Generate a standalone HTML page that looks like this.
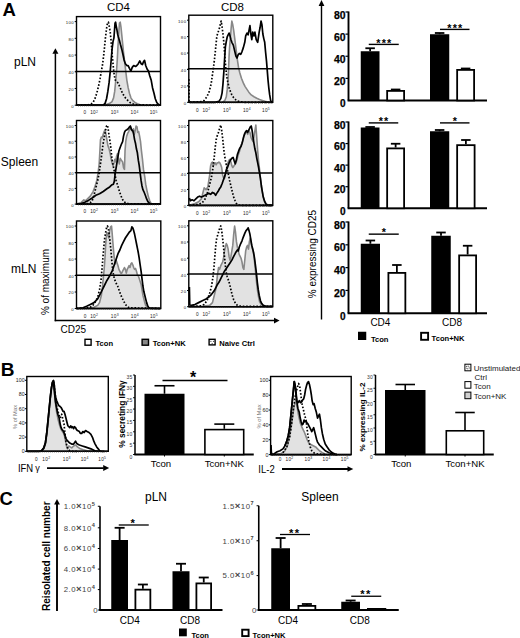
<!DOCTYPE html>
<html><head><meta charset="utf-8"><style>
html,body{margin:0;padding:0;background:#fff;}
svg{display:block;font-family:"Liberation Sans", sans-serif;}
</style></head><body>
<svg width="520" height="638" viewBox="0 0 520 638">
<text x="2.6" y="15.8" font-size="18.5" font-weight="bold" text-anchor="start" fill="#000">A</text>
<text x="118.5" y="10.5" font-size="11.5" font-weight="normal" text-anchor="middle" fill="#000">CD4</text>
<text x="232.5" y="10.5" font-size="11.5" font-weight="normal" text-anchor="middle" fill="#000">CD8</text>
<text x="14" y="66" font-size="12" font-weight="normal" text-anchor="start" fill="#000">pLN</text>
<text x="0.8" y="166" font-size="12" font-weight="normal" text-anchor="start" fill="#000">Spleen</text>
<text x="11" y="272.5" font-size="12" font-weight="normal" text-anchor="start" fill="#000">mLN</text>
<text x="48.6" y="282" font-size="10" font-weight="normal" text-anchor="middle" fill="#000" transform="rotate(-90 48.6 282)">% of maximum</text>
<text x="60.5" y="332.6" font-size="10" font-weight="normal" text-anchor="start" fill="#000">CD25</text>
<line x1="55.4" y1="53.2" x2="55.4" y2="321.2" stroke="#000" stroke-width="1.5"/>
<polygon points="55.4,48.2 52.4,53.7 58.4,53.7" fill="#000"/>
<line x1="54.7" y1="320.6" x2="274.5" y2="320.6" stroke="#000" stroke-width="1.5"/>
<polygon points="279.6,320.6 274.0,317.70000000000005 274.0,323.5" fill="#000"/>
<line x1="321.5" y1="5.5" x2="321.5" y2="319.5" stroke="#000" stroke-width="1.4"/>
<polygon points="321.5,0 318.6,6 324.4,6" fill="#000"/>
<text x="316.2" y="254" font-size="10" font-weight="normal" text-anchor="middle" fill="#000" transform="rotate(-90 316.2 254)">% expressing CD25</text>
<rect x="85.0" y="339.3" width="6.1" height="5.9" fill="#fff" stroke="#000" stroke-width="1.4"/>
<text x="95.5" y="346.2" font-size="7.6" font-weight="bold" text-anchor="start" fill="#000">Tcon</text>
<rect x="142.1" y="339.3" width="6.4" height="5.9" fill="#888" stroke="#000" stroke-width="1.4"/>
<text x="152.7" y="346.2" font-size="7.6" font-weight="bold" text-anchor="start" fill="#000">Tcon+NK</text>
<rect x="209.1" y="339.3" width="6.0" height="5.6" fill="#fff" stroke="#000" stroke-width="1.4"/>
<circle cx="210.9" cy="341.3" r="0.55" fill="#000"/><circle cx="213.4" cy="341.3" r="0.55" fill="#000"/><circle cx="212.1" cy="343.6" r="0.5" fill="#000"/>
<text x="219.3" y="346.2" font-size="7.6" font-weight="bold" text-anchor="start" fill="#000">Naive Ctrl</text>
<line x1="348.5" y1="11.5" x2="348.5" y2="100.5" stroke="#000" stroke-width="1.9"/>
<line x1="347.6" y1="100.5" x2="487" y2="100.5" stroke="#000" stroke-width="1.9"/>
<line x1="345.5" y1="12.0" x2="348.5" y2="12.0" stroke="#000" stroke-width="1.2"/>
<text x="345.5" y="18.5" font-size="10.2" font-weight="bold" text-anchor="end" fill="#000" textLength="11.6" lengthAdjust="spacingAndGlyphs" stroke="#000" stroke-width="0.25">80</text>
<line x1="345.5" y1="34.125" x2="348.5" y2="34.125" stroke="#000" stroke-width="1.2"/>
<text x="345.5" y="40.62" font-size="10.2" font-weight="bold" text-anchor="end" fill="#000" textLength="11.6" lengthAdjust="spacingAndGlyphs" stroke="#000" stroke-width="0.25">60</text>
<line x1="345.5" y1="56.25" x2="348.5" y2="56.25" stroke="#000" stroke-width="1.2"/>
<text x="345.5" y="62.75" font-size="10.2" font-weight="bold" text-anchor="end" fill="#000" textLength="11.6" lengthAdjust="spacingAndGlyphs" stroke="#000" stroke-width="0.25">40</text>
<line x1="345.5" y1="78.375" x2="348.5" y2="78.375" stroke="#000" stroke-width="1.2"/>
<text x="345.5" y="84.88" font-size="10.2" font-weight="bold" text-anchor="end" fill="#000" textLength="11.6" lengthAdjust="spacingAndGlyphs" stroke="#000" stroke-width="0.25">20</text>
<text x="345.5" y="107.0" font-size="10.2" font-weight="bold" text-anchor="end" fill="#000" textLength="5.6" lengthAdjust="spacingAndGlyphs" stroke="#000" stroke-width="0.25">0</text>
<line x1="370.125" y1="48.25" x2="370.125" y2="51.25" stroke="#000" stroke-width="1.8"/>
<line x1="365.375" y1="48.25" x2="374.875" y2="48.25" stroke="#000" stroke-width="1.8"/>
<rect x="360.75" y="51.25" width="18.75" height="49.25" fill="#000" stroke="none" stroke-width="0"/>
<line x1="395.625" y1="89.5" x2="395.625" y2="90" stroke="#000" stroke-width="1.8"/>
<line x1="390.875" y1="89.5" x2="400.375" y2="89.5" stroke="#000" stroke-width="1.8"/>
<rect x="387.15" y="90.9" width="16.95" height="9.6" fill="#fff" stroke="#000" stroke-width="1.8"/>
<line x1="439.625" y1="33" x2="439.625" y2="34.25" stroke="#000" stroke-width="1.8"/>
<line x1="434.875" y1="33" x2="444.375" y2="33" stroke="#000" stroke-width="1.8"/>
<rect x="430" y="34.25" width="19.25" height="66.25" fill="#000" stroke="none" stroke-width="0"/>
<line x1="465.625" y1="68.5" x2="465.625" y2="69" stroke="#000" stroke-width="1.8"/>
<line x1="460.875" y1="68.5" x2="470.375" y2="68.5" stroke="#000" stroke-width="1.8"/>
<rect x="457.15" y="69.9" width="16.95" height="30.6" fill="#fff" stroke="#000" stroke-width="1.8"/>
<line x1="368.75" y1="44.4" x2="398.75" y2="44.4" stroke="#000" stroke-width="1.4"/>
<text x="384.3" y="46.61" font-size="10.8" font-weight="bold" text-anchor="middle" letter-spacing="1.1">***</text>
<line x1="440" y1="29.4" x2="469.5" y2="29.4" stroke="#000" stroke-width="1.4"/>
<text x="455.3" y="31.61" font-size="10.8" font-weight="bold" text-anchor="middle" letter-spacing="1.1">***</text>
<line x1="348.5" y1="121.5" x2="348.5" y2="208.25" stroke="#000" stroke-width="1.9"/>
<line x1="347.6" y1="208.25" x2="487" y2="208.25" stroke="#000" stroke-width="1.9"/>
<line x1="345.5" y1="122.0" x2="348.5" y2="122.0" stroke="#000" stroke-width="1.2"/>
<text x="345.5" y="128.5" font-size="10.2" font-weight="bold" text-anchor="end" fill="#000" textLength="11.6" lengthAdjust="spacingAndGlyphs" stroke="#000" stroke-width="0.25">80</text>
<line x1="345.5" y1="143.5625" x2="348.5" y2="143.5625" stroke="#000" stroke-width="1.2"/>
<text x="345.5" y="150.06" font-size="10.2" font-weight="bold" text-anchor="end" fill="#000" textLength="11.6" lengthAdjust="spacingAndGlyphs" stroke="#000" stroke-width="0.25">60</text>
<line x1="345.5" y1="165.125" x2="348.5" y2="165.125" stroke="#000" stroke-width="1.2"/>
<text x="345.5" y="171.62" font-size="10.2" font-weight="bold" text-anchor="end" fill="#000" textLength="11.6" lengthAdjust="spacingAndGlyphs" stroke="#000" stroke-width="0.25">40</text>
<line x1="345.5" y1="186.6875" x2="348.5" y2="186.6875" stroke="#000" stroke-width="1.2"/>
<text x="345.5" y="193.19" font-size="10.2" font-weight="bold" text-anchor="end" fill="#000" textLength="11.6" lengthAdjust="spacingAndGlyphs" stroke="#000" stroke-width="0.25">20</text>
<text x="345.5" y="214.75" font-size="10.2" font-weight="bold" text-anchor="end" fill="#000" textLength="5.6" lengthAdjust="spacingAndGlyphs" stroke="#000" stroke-width="0.25">0</text>
<line x1="370.125" y1="127" x2="370.125" y2="127.5" stroke="#000" stroke-width="1.8"/>
<line x1="365.375" y1="127" x2="374.875" y2="127" stroke="#000" stroke-width="1.8"/>
<rect x="360.75" y="127.5" width="18.75" height="80.75" fill="#000" stroke="none" stroke-width="0"/>
<line x1="395.625" y1="143.75" x2="395.625" y2="147.5" stroke="#000" stroke-width="1.8"/>
<line x1="390.875" y1="143.75" x2="400.375" y2="143.75" stroke="#000" stroke-width="1.8"/>
<rect x="387.15" y="148.4" width="16.95" height="59.85" fill="#fff" stroke="#000" stroke-width="1.8"/>
<line x1="439.625" y1="130" x2="439.625" y2="131.25" stroke="#000" stroke-width="1.8"/>
<line x1="434.875" y1="130" x2="444.375" y2="130" stroke="#000" stroke-width="1.8"/>
<rect x="430" y="131.25" width="19.25" height="77.0" fill="#000" stroke="none" stroke-width="0"/>
<line x1="465.875" y1="140" x2="465.875" y2="144.25" stroke="#000" stroke-width="1.8"/>
<line x1="461.125" y1="140" x2="470.625" y2="140" stroke="#000" stroke-width="1.8"/>
<rect x="457.15" y="145.15" width="17.45" height="63.1" fill="#fff" stroke="#000" stroke-width="1.8"/>
<line x1="368.75" y1="122.9" x2="398.25" y2="122.9" stroke="#000" stroke-width="1.4"/>
<text x="384.05" y="125.11" font-size="10.8" font-weight="bold" text-anchor="middle" letter-spacing="1.1">**</text>
<line x1="440" y1="122.9" x2="469.5" y2="122.9" stroke="#000" stroke-width="1.4"/>
<text x="455.3" y="125.11" font-size="10.8" font-weight="bold" text-anchor="middle" letter-spacing="1.1">*</text>
<line x1="348.5" y1="221.5" x2="348.5" y2="313.25" stroke="#000" stroke-width="1.9"/>
<line x1="347.6" y1="313.25" x2="487" y2="313.25" stroke="#000" stroke-width="1.9"/>
<line x1="345.5" y1="222.0" x2="348.5" y2="222.0" stroke="#000" stroke-width="1.2"/>
<text x="345.5" y="228.5" font-size="10.2" font-weight="bold" text-anchor="end" fill="#000" textLength="11.6" lengthAdjust="spacingAndGlyphs" stroke="#000" stroke-width="0.25">80</text>
<line x1="345.5" y1="244.8125" x2="348.5" y2="244.8125" stroke="#000" stroke-width="1.2"/>
<text x="345.5" y="251.31" font-size="10.2" font-weight="bold" text-anchor="end" fill="#000" textLength="11.6" lengthAdjust="spacingAndGlyphs" stroke="#000" stroke-width="0.25">60</text>
<line x1="345.5" y1="267.625" x2="348.5" y2="267.625" stroke="#000" stroke-width="1.2"/>
<text x="345.5" y="274.12" font-size="10.2" font-weight="bold" text-anchor="end" fill="#000" textLength="11.6" lengthAdjust="spacingAndGlyphs" stroke="#000" stroke-width="0.25">40</text>
<line x1="345.5" y1="290.4375" x2="348.5" y2="290.4375" stroke="#000" stroke-width="1.2"/>
<text x="345.5" y="296.94" font-size="10.2" font-weight="bold" text-anchor="end" fill="#000" textLength="11.6" lengthAdjust="spacingAndGlyphs" stroke="#000" stroke-width="0.25">20</text>
<text x="345.5" y="319.75" font-size="10.2" font-weight="bold" text-anchor="end" fill="#000" textLength="5.6" lengthAdjust="spacingAndGlyphs" stroke="#000" stroke-width="0.25">0</text>
<line x1="370.375" y1="240.5" x2="370.375" y2="243.75" stroke="#000" stroke-width="1.8"/>
<line x1="365.625" y1="240.5" x2="375.125" y2="240.5" stroke="#000" stroke-width="1.8"/>
<rect x="360.75" y="243.75" width="19.25" height="69.5" fill="#000" stroke="none" stroke-width="0"/>
<line x1="396.875" y1="265" x2="396.875" y2="272" stroke="#000" stroke-width="1.8"/>
<line x1="392.125" y1="265" x2="401.625" y2="265" stroke="#000" stroke-width="1.8"/>
<rect x="388.4" y="272.9" width="16.95" height="40.35" fill="#fff" stroke="#000" stroke-width="1.8"/>
<line x1="441.0" y1="232.5" x2="441.0" y2="235.75" stroke="#000" stroke-width="1.8"/>
<line x1="436.25" y1="232.5" x2="445.75" y2="232.5" stroke="#000" stroke-width="1.8"/>
<rect x="431.25" y="235.75" width="19.5" height="77.5" fill="#000" stroke="none" stroke-width="0"/>
<line x1="467.625" y1="245.75" x2="467.625" y2="254.5" stroke="#000" stroke-width="1.8"/>
<line x1="462.875" y1="245.75" x2="472.375" y2="245.75" stroke="#000" stroke-width="1.8"/>
<rect x="459.15" y="255.4" width="16.95" height="57.85" fill="#fff" stroke="#000" stroke-width="1.8"/>
<line x1="368.75" y1="234.15" x2="398.75" y2="234.15" stroke="#000" stroke-width="1.4"/>
<text x="384.3" y="236.36" font-size="10.8" font-weight="bold" text-anchor="middle" letter-spacing="1.1">*</text>
<text x="380.4" y="325.5" font-size="10" font-weight="normal" text-anchor="middle" fill="#000">CD4</text>
<text x="452" y="325.5" font-size="10" font-weight="normal" text-anchor="middle" fill="#000">CD8</text>
<rect x="358" y="331.75" width="8.25" height="8.25" fill="#000" stroke="none" stroke-width="0"/>
<text x="370.9" y="341.5" font-size="7.6" font-weight="bold" text-anchor="start" fill="#000">Tcon</text>
<rect x="421.1" y="332.8" width="7" height="7" fill="#fff" stroke="#000" stroke-width="1.9"/>
<text x="431.6" y="341.4" font-size="7.6" font-weight="bold" text-anchor="start" fill="#000">Tcon+NK</text>
<polygon points="104.15,105.2 104.15,105.2 106.92,104.31 109.69,103.38 112.09,101.54 113.57,97.85 114.68,91.38 115.6,82.15 116.52,71.08 117.26,60.0 117.82,48.92 118.37,39.69 118.92,30.46 119.48,23.08 120.22,22.15 120.95,26.77 121.69,34.15 122.62,43.38 123.54,52.62 124.65,61.85 125.75,71.08 126.86,80.31 128.15,87.69 129.45,93.23 130.92,97.85 132.77,100.62 134.98,102.46 137.38,103.75 140.15,104.68 143.85,105.2 143.85,105.2" fill="#e2e2e2" stroke="none"/>
<polyline points="104.15,105.2 106.92,104.31 109.69,103.38 112.09,101.54 113.57,97.85 114.68,91.38 115.6,82.15 116.52,71.08 117.26,60.0 117.82,48.92 118.37,39.69 118.92,30.46 119.48,23.08 120.22,22.15 120.95,26.77 121.69,34.15 122.62,43.38 123.54,52.62 124.65,61.85 125.75,71.08 126.86,80.31 128.15,87.69 129.45,93.23 130.92,97.85 132.77,100.62 134.98,102.46 137.38,103.75 140.15,104.68 143.85,105.2" fill="none" stroke="#888" stroke-width="1.6" stroke-linejoin="round"/>
<polyline points="77.38,105.2 88.46,104.86 91.23,103.94 93.08,102.46 94.92,98.77 96.77,93.23 98.62,85.85 100.09,78.46 101.38,71.08 102.68,63.69 103.78,54.46 104.71,45.23 105.63,36.0 106.55,28.62 107.48,23.08 108.4,22.15 109.32,26.77 110.25,32.31 110.98,39.69 111.72,48.92 112.46,58.15 113.38,67.38 114.31,75.69 115.42,80.31 116.52,81.78 117.63,82.52 118.92,84.92 120.22,87.69 121.69,91.38 123.54,95.08 125.38,97.85 127.6,100.25 130.0,102.46 132.77,103.75 136.46,104.86 160.09,105.2" fill="none" stroke="#000" stroke-width="1.7" stroke-dasharray="1.6 1.8" stroke-linejoin="round"/>
<polyline points="77.02,105.2 103.23,105.2 105.08,103.38 106.55,98.77 107.85,91.38 109.14,82.15 110.25,71.08 111.17,60.0 112.09,48.92 113.02,41.54 113.94,37.85 114.49,30.46 115.05,23.08 115.6,22.15 116.15,25.85 116.89,29.54 117.63,34.15 118.55,37.85 119.48,40.62 120.4,44.31 121.69,48.92 122.98,54.46 124.09,60.0 125.38,63.69 126.86,65.54 128.15,65.54 129.45,68.31 130.92,71.08 132.22,67.38 133.69,65.54 135.54,66.46 136.83,65.54 138.31,63.69 139.78,60.92 141.08,63.69 142.37,64.62 143.48,61.85 144.58,60.37 145.69,65.54 147.17,69.23 148.46,71.08 149.75,75.69 151.23,80.31 152.52,87.69 154.0,93.23 155.29,98.77 156.77,102.46 158.25,104.31 159.54,105.2 160.09,105.2" fill="none" stroke="#000" stroke-width="1.7" stroke-linejoin="round"/>
<rect x="76.5" y="16.6" width="84.0" height="88.6" fill="none" stroke="#000" stroke-width="1.4"/>
<line x1="76.5" y1="105.2" x2="160.5" y2="105.2" stroke="#000" stroke-width="1.6"/>
<line x1="75.5" y1="71.6" x2="160.5" y2="71.6" stroke="#000" stroke-width="1.5"/>
<line x1="74.7" y1="21.6" x2="76.5" y2="21.6" stroke="#000" stroke-width="1.0"/>
<text x="74.2" y="24.0" font-size="4.3" font-weight="normal" text-anchor="end" fill="#222" letter-spacing="0.45">100</text>
<line x1="74.7" y1="38.32" x2="76.5" y2="38.32" stroke="#000" stroke-width="1.0"/>
<text x="74.2" y="40.72" font-size="4.3" font-weight="normal" text-anchor="end" fill="#222" letter-spacing="0.45">80</text>
<line x1="74.7" y1="55.04" x2="76.5" y2="55.04" stroke="#000" stroke-width="1.0"/>
<text x="74.2" y="57.44" font-size="4.3" font-weight="normal" text-anchor="end" fill="#222" letter-spacing="0.45">60</text>
<line x1="74.7" y1="71.75999999999999" x2="76.5" y2="71.75999999999999" stroke="#000" stroke-width="1.0"/>
<text x="74.2" y="74.16" font-size="4.3" font-weight="normal" text-anchor="end" fill="#222" letter-spacing="0.45">40</text>
<line x1="74.7" y1="88.47999999999999" x2="76.5" y2="88.47999999999999" stroke="#000" stroke-width="1.0"/>
<text x="74.2" y="90.88" font-size="4.3" font-weight="normal" text-anchor="end" fill="#222" letter-spacing="0.45">20</text>
<line x1="74.7" y1="105.19999999999999" x2="76.5" y2="105.19999999999999" stroke="#000" stroke-width="1.0"/>
<text x="74.2" y="107.6" font-size="4.3" font-weight="normal" text-anchor="end" fill="#222" letter-spacing="0.45">0</text>
<text x="85.07" y="114.4" font-size="4.7" font-weight="normal" text-anchor="middle" fill="#222" letter-spacing="0.3">0</text>
<text x="94.14" y="114.4" font-size="4.7" font-weight="normal" text-anchor="middle" fill="#222" letter-spacing="0.3">10<tspan dy="-1.9" font-size="3.4">2</tspan></text>
<text x="114.72" y="114.4" font-size="4.7" font-weight="normal" text-anchor="middle" fill="#222" letter-spacing="0.3">10<tspan dy="-1.9" font-size="3.4">3</tspan></text>
<text x="134.63" y="114.4" font-size="4.7" font-weight="normal" text-anchor="middle" fill="#222" letter-spacing="0.3">10<tspan dy="-1.9" font-size="3.4">4</tspan></text>
<text x="153.7" y="114.4" font-size="4.7" font-weight="normal" text-anchor="middle" fill="#222" letter-spacing="0.3">10<tspan dy="-1.9" font-size="3.4">5</tspan></text>
<line x1="78.5" y1="105.2" x2="78.5" y2="106.5" stroke="#333" stroke-width="0.6"/>
<line x1="80.55" y1="105.2" x2="80.55" y2="106.5" stroke="#333" stroke-width="0.6"/>
<line x1="82.6" y1="105.2" x2="82.6" y2="106.5" stroke="#333" stroke-width="0.6"/>
<line x1="84.65" y1="105.2" x2="84.65" y2="106.5" stroke="#333" stroke-width="0.6"/>
<line x1="86.71" y1="105.2" x2="86.71" y2="106.5" stroke="#333" stroke-width="0.6"/>
<line x1="88.76" y1="105.2" x2="88.76" y2="106.5" stroke="#333" stroke-width="0.6"/>
<line x1="90.81" y1="105.2" x2="90.81" y2="106.5" stroke="#333" stroke-width="0.6"/>
<line x1="92.86" y1="105.2" x2="92.86" y2="106.5" stroke="#333" stroke-width="0.6"/>
<line x1="94.91" y1="105.2" x2="94.91" y2="106.5" stroke="#333" stroke-width="0.6"/>
<line x1="96.96" y1="105.2" x2="96.96" y2="106.5" stroke="#333" stroke-width="0.6"/>
<line x1="99.01" y1="105.2" x2="99.01" y2="106.5" stroke="#333" stroke-width="0.6"/>
<line x1="101.06" y1="105.2" x2="101.06" y2="106.5" stroke="#333" stroke-width="0.6"/>
<line x1="103.12" y1="105.2" x2="103.12" y2="106.5" stroke="#333" stroke-width="0.6"/>
<line x1="105.17" y1="105.2" x2="105.17" y2="106.5" stroke="#333" stroke-width="0.6"/>
<line x1="107.22" y1="105.2" x2="107.22" y2="106.5" stroke="#333" stroke-width="0.6"/>
<line x1="109.27" y1="105.2" x2="109.27" y2="106.5" stroke="#333" stroke-width="0.6"/>
<line x1="111.32" y1="105.2" x2="111.32" y2="106.5" stroke="#333" stroke-width="0.6"/>
<line x1="113.37" y1="105.2" x2="113.37" y2="106.5" stroke="#333" stroke-width="0.6"/>
<line x1="115.42" y1="105.2" x2="115.42" y2="106.5" stroke="#333" stroke-width="0.6"/>
<line x1="117.47" y1="105.2" x2="117.47" y2="106.5" stroke="#333" stroke-width="0.6"/>
<line x1="119.53" y1="105.2" x2="119.53" y2="106.5" stroke="#333" stroke-width="0.6"/>
<line x1="121.58" y1="105.2" x2="121.58" y2="106.5" stroke="#333" stroke-width="0.6"/>
<line x1="123.63" y1="105.2" x2="123.63" y2="106.5" stroke="#333" stroke-width="0.6"/>
<line x1="125.68" y1="105.2" x2="125.68" y2="106.5" stroke="#333" stroke-width="0.6"/>
<line x1="127.73" y1="105.2" x2="127.73" y2="106.5" stroke="#333" stroke-width="0.6"/>
<line x1="129.78" y1="105.2" x2="129.78" y2="106.5" stroke="#333" stroke-width="0.6"/>
<line x1="131.83" y1="105.2" x2="131.83" y2="106.5" stroke="#333" stroke-width="0.6"/>
<line x1="133.88" y1="105.2" x2="133.88" y2="106.5" stroke="#333" stroke-width="0.6"/>
<line x1="135.94" y1="105.2" x2="135.94" y2="106.5" stroke="#333" stroke-width="0.6"/>
<line x1="137.99" y1="105.2" x2="137.99" y2="106.5" stroke="#333" stroke-width="0.6"/>
<line x1="140.04" y1="105.2" x2="140.04" y2="106.5" stroke="#333" stroke-width="0.6"/>
<line x1="142.09" y1="105.2" x2="142.09" y2="106.5" stroke="#333" stroke-width="0.6"/>
<line x1="144.14" y1="105.2" x2="144.14" y2="106.5" stroke="#333" stroke-width="0.6"/>
<line x1="146.19" y1="105.2" x2="146.19" y2="106.5" stroke="#333" stroke-width="0.6"/>
<line x1="148.24" y1="105.2" x2="148.24" y2="106.5" stroke="#333" stroke-width="0.6"/>
<line x1="150.29" y1="105.2" x2="150.29" y2="106.5" stroke="#333" stroke-width="0.6"/>
<line x1="152.35" y1="105.2" x2="152.35" y2="106.5" stroke="#333" stroke-width="0.6"/>
<line x1="154.4" y1="105.2" x2="154.4" y2="106.5" stroke="#333" stroke-width="0.6"/>
<line x1="156.45" y1="105.2" x2="156.45" y2="106.5" stroke="#333" stroke-width="0.6"/>
<line x1="158.5" y1="105.2" x2="158.5" y2="106.5" stroke="#333" stroke-width="0.6"/>
<polygon points="222.62,102.3 222.62,102.3 224.83,100.46 226.31,96.77 227.23,89.38 228.15,78.31 228.71,65.38 229.08,56.15 229.63,46.92 230.37,37.69 231.11,28.46 231.85,21.08 232.77,24.77 233.69,30.31 234.62,37.69 235.54,45.08 236.46,52.46 237.38,59.85 238.49,67.23 239.78,72.77 241.45,78.31 243.29,82.92 245.14,86.62 246.98,89.38 248.83,92.15 251.23,94.92 254.0,96.77 256.77,98.25 259.54,99.54 262.31,100.46 265.08,101.38 268.77,102.3 268.77,102.3" fill="#e2e2e2" stroke="none"/>
<polyline points="222.62,102.3 224.83,100.46 226.31,96.77 227.23,89.38 228.15,78.31 228.71,65.38 229.08,56.15 229.63,46.92 230.37,37.69 231.11,28.46 231.85,21.08 232.77,24.77 233.69,30.31 234.62,37.69 235.54,45.08 236.46,52.46 237.38,59.85 238.49,67.23 239.78,72.77 241.45,78.31 243.29,82.92 245.14,86.62 246.98,89.38 248.83,92.15 251.23,94.92 254.0,96.77 256.77,98.25 259.54,99.54 262.31,100.46 265.08,101.38 268.77,102.3" fill="none" stroke="#888" stroke-width="1.6" stroke-linejoin="round"/>
<polyline points="189.02,79.23 189.02,102.3 200.46,101.75 204.15,100.46 206.92,96.77 209.32,91.23 211.17,83.85 212.46,74.62 213.75,65.38 214.86,56.15 215.78,46.92 216.71,37.69 217.63,33.08 218.92,30.31 220.22,24.77 221.14,21.08 222.06,26.62 222.98,34.0 223.91,43.23 224.83,56.15 225.75,67.23 226.68,76.46 227.78,82.0 229.08,87.54 230.37,91.23 231.85,94.92 233.69,97.69 235.54,99.54 237.38,101.02 241.08,101.94 244.77,102.3 272.46,102.3" fill="none" stroke="#000" stroke-width="1.7" stroke-dasharray="1.6 1.8" stroke-linejoin="round"/>
<polyline points="189.38,102.3 215.23,102.3 218.92,101.38 220.77,98.62 222.06,93.08 222.98,83.85 223.91,70.92 224.65,58.0 225.38,46.92 226.31,41.38 227.23,36.77 228.15,34.92 229.08,33.08 230.0,35.85 230.92,39.54 231.85,42.31 233.32,45.08 234.62,50.62 235.91,56.15 237.02,58.0 237.94,55.23 239.23,53.38 240.71,54.31 242.0,51.54 243.29,47.85 244.77,42.31 245.69,35.85 246.98,33.08 248.09,34.92 249.02,30.31 249.94,25.69 250.86,34.0 251.78,39.54 252.71,32.15 254.0,35.85 254.92,32.15 256.22,39.54 257.69,42.31 259.17,32.15 260.09,27.54 261.02,21.08 261.94,24.77 262.86,34.0 263.78,38.62 264.71,42.31 265.63,52.46 266.55,61.69 267.29,70.92 268.03,80.15 268.77,87.54 269.69,94.92 270.62,100.46 271.54,102.3 272.46,102.3" fill="none" stroke="#000" stroke-width="1.7" stroke-linejoin="round"/>
<rect x="188.8" y="15.2" width="84.0" height="87.1" fill="none" stroke="#000" stroke-width="1.4"/>
<line x1="188.8" y1="102.3" x2="272.8" y2="102.3" stroke="#000" stroke-width="1.6"/>
<line x1="187.8" y1="68.7" x2="272.8" y2="68.7" stroke="#000" stroke-width="1.5"/>
<line x1="187.0" y1="20.2" x2="188.8" y2="20.2" stroke="#000" stroke-width="1.0"/>
<text x="186.5" y="22.6" font-size="4.3" font-weight="normal" text-anchor="end" fill="#222" letter-spacing="0.45">100</text>
<line x1="187.0" y1="36.62" x2="188.8" y2="36.62" stroke="#000" stroke-width="1.0"/>
<text x="186.5" y="39.02" font-size="4.3" font-weight="normal" text-anchor="end" fill="#222" letter-spacing="0.45">80</text>
<line x1="187.0" y1="53.03999999999999" x2="188.8" y2="53.03999999999999" stroke="#000" stroke-width="1.0"/>
<text x="186.5" y="55.44" font-size="4.3" font-weight="normal" text-anchor="end" fill="#222" letter-spacing="0.45">60</text>
<line x1="187.0" y1="69.46" x2="188.8" y2="69.46" stroke="#000" stroke-width="1.0"/>
<text x="186.5" y="71.86" font-size="4.3" font-weight="normal" text-anchor="end" fill="#222" letter-spacing="0.45">40</text>
<line x1="187.0" y1="85.88" x2="188.8" y2="85.88" stroke="#000" stroke-width="1.0"/>
<text x="186.5" y="88.28" font-size="4.3" font-weight="normal" text-anchor="end" fill="#222" letter-spacing="0.45">20</text>
<line x1="187.0" y1="102.3" x2="188.8" y2="102.3" stroke="#000" stroke-width="1.0"/>
<text x="186.5" y="104.7" font-size="4.3" font-weight="normal" text-anchor="end" fill="#222" letter-spacing="0.45">0</text>
<text x="197.37" y="111.5" font-size="4.7" font-weight="normal" text-anchor="middle" fill="#222" letter-spacing="0.3">0</text>
<text x="206.44" y="111.5" font-size="4.7" font-weight="normal" text-anchor="middle" fill="#222" letter-spacing="0.3">10<tspan dy="-1.9" font-size="3.4">2</tspan></text>
<text x="227.02" y="111.5" font-size="4.7" font-weight="normal" text-anchor="middle" fill="#222" letter-spacing="0.3">10<tspan dy="-1.9" font-size="3.4">3</tspan></text>
<text x="246.93" y="111.5" font-size="4.7" font-weight="normal" text-anchor="middle" fill="#222" letter-spacing="0.3">10<tspan dy="-1.9" font-size="3.4">4</tspan></text>
<text x="266.0" y="111.5" font-size="4.7" font-weight="normal" text-anchor="middle" fill="#222" letter-spacing="0.3">10<tspan dy="-1.9" font-size="3.4">5</tspan></text>
<line x1="190.8" y1="102.3" x2="190.8" y2="103.6" stroke="#333" stroke-width="0.6"/>
<line x1="192.85" y1="102.3" x2="192.85" y2="103.6" stroke="#333" stroke-width="0.6"/>
<line x1="194.9" y1="102.3" x2="194.9" y2="103.6" stroke="#333" stroke-width="0.6"/>
<line x1="196.95" y1="102.3" x2="196.95" y2="103.6" stroke="#333" stroke-width="0.6"/>
<line x1="199.01" y1="102.3" x2="199.01" y2="103.6" stroke="#333" stroke-width="0.6"/>
<line x1="201.06" y1="102.3" x2="201.06" y2="103.6" stroke="#333" stroke-width="0.6"/>
<line x1="203.11" y1="102.3" x2="203.11" y2="103.6" stroke="#333" stroke-width="0.6"/>
<line x1="205.16" y1="102.3" x2="205.16" y2="103.6" stroke="#333" stroke-width="0.6"/>
<line x1="207.21" y1="102.3" x2="207.21" y2="103.6" stroke="#333" stroke-width="0.6"/>
<line x1="209.26" y1="102.3" x2="209.26" y2="103.6" stroke="#333" stroke-width="0.6"/>
<line x1="211.31" y1="102.3" x2="211.31" y2="103.6" stroke="#333" stroke-width="0.6"/>
<line x1="213.36" y1="102.3" x2="213.36" y2="103.6" stroke="#333" stroke-width="0.6"/>
<line x1="215.42" y1="102.3" x2="215.42" y2="103.6" stroke="#333" stroke-width="0.6"/>
<line x1="217.47" y1="102.3" x2="217.47" y2="103.6" stroke="#333" stroke-width="0.6"/>
<line x1="219.52" y1="102.3" x2="219.52" y2="103.6" stroke="#333" stroke-width="0.6"/>
<line x1="221.57" y1="102.3" x2="221.57" y2="103.6" stroke="#333" stroke-width="0.6"/>
<line x1="223.62" y1="102.3" x2="223.62" y2="103.6" stroke="#333" stroke-width="0.6"/>
<line x1="225.67" y1="102.3" x2="225.67" y2="103.6" stroke="#333" stroke-width="0.6"/>
<line x1="227.72" y1="102.3" x2="227.72" y2="103.6" stroke="#333" stroke-width="0.6"/>
<line x1="229.77" y1="102.3" x2="229.77" y2="103.6" stroke="#333" stroke-width="0.6"/>
<line x1="231.83" y1="102.3" x2="231.83" y2="103.6" stroke="#333" stroke-width="0.6"/>
<line x1="233.88" y1="102.3" x2="233.88" y2="103.6" stroke="#333" stroke-width="0.6"/>
<line x1="235.93" y1="102.3" x2="235.93" y2="103.6" stroke="#333" stroke-width="0.6"/>
<line x1="237.98" y1="102.3" x2="237.98" y2="103.6" stroke="#333" stroke-width="0.6"/>
<line x1="240.03" y1="102.3" x2="240.03" y2="103.6" stroke="#333" stroke-width="0.6"/>
<line x1="242.08" y1="102.3" x2="242.08" y2="103.6" stroke="#333" stroke-width="0.6"/>
<line x1="244.13" y1="102.3" x2="244.13" y2="103.6" stroke="#333" stroke-width="0.6"/>
<line x1="246.18" y1="102.3" x2="246.18" y2="103.6" stroke="#333" stroke-width="0.6"/>
<line x1="248.24" y1="102.3" x2="248.24" y2="103.6" stroke="#333" stroke-width="0.6"/>
<line x1="250.29" y1="102.3" x2="250.29" y2="103.6" stroke="#333" stroke-width="0.6"/>
<line x1="252.34" y1="102.3" x2="252.34" y2="103.6" stroke="#333" stroke-width="0.6"/>
<line x1="254.39" y1="102.3" x2="254.39" y2="103.6" stroke="#333" stroke-width="0.6"/>
<line x1="256.44" y1="102.3" x2="256.44" y2="103.6" stroke="#333" stroke-width="0.6"/>
<line x1="258.49" y1="102.3" x2="258.49" y2="103.6" stroke="#333" stroke-width="0.6"/>
<line x1="260.54" y1="102.3" x2="260.54" y2="103.6" stroke="#333" stroke-width="0.6"/>
<line x1="262.59" y1="102.3" x2="262.59" y2="103.6" stroke="#333" stroke-width="0.6"/>
<line x1="264.65" y1="102.3" x2="264.65" y2="103.6" stroke="#333" stroke-width="0.6"/>
<line x1="266.7" y1="102.3" x2="266.7" y2="103.6" stroke="#333" stroke-width="0.6"/>
<line x1="268.75" y1="102.3" x2="268.75" y2="103.6" stroke="#333" stroke-width="0.6"/>
<line x1="270.8" y1="102.3" x2="270.8" y2="103.6" stroke="#333" stroke-width="0.6"/>
<polygon points="76.5,204.1 76.5,204.09 81.08,202.62 83.85,199.85 85.69,200.77 87.54,198.92 90.31,196.15 93.08,191.54 94.92,186.92 96.77,180.46 98.06,173.08 99.17,163.85 99.91,150.92 100.46,139.85 101.38,137.08 102.31,138.0 103.23,134.31 104.15,131.54 105.08,129.69 106.0,134.31 106.92,139.85 107.85,145.38 109.14,149.08 110.25,153.69 110.98,158.31 112.09,162.92 113.02,165.69 113.94,162.92 114.86,159.23 115.78,162.0 116.52,156.46 117.45,153.69 118.37,160.15 119.29,163.85 120.22,158.31 121.32,160.15 122.62,162.0 123.54,167.54 124.46,169.38 125.02,150.92 125.75,141.69 126.68,136.15 127.6,133.38 128.71,131.54 129.63,128.77 130.55,126.92 131.48,129.69 132.4,131.54 133.32,128.77 134.25,134.31 135.17,130.62 136.09,126.0 137.02,126.92 137.75,132.46 138.68,131.54 139.6,136.15 140.52,141.69 141.45,150.92 142.37,158.31 143.48,169.38 144.77,176.77 145.69,184.15 147.17,191.54 148.46,197.08 149.75,200.77 151.23,203.54 153.08,204.09 153.08,204.1" fill="#e2e2e2" stroke="none"/>
<polyline points="76.5,204.09 81.08,202.62 83.85,199.85 85.69,200.77 87.54,198.92 90.31,196.15 93.08,191.54 94.92,186.92 96.77,180.46 98.06,173.08 99.17,163.85 99.91,150.92 100.46,139.85 101.38,137.08 102.31,138.0 103.23,134.31 104.15,131.54 105.08,129.69 106.0,134.31 106.92,139.85 107.85,145.38 109.14,149.08 110.25,153.69 110.98,158.31 112.09,162.92 113.02,165.69 113.94,162.92 114.86,159.23 115.78,162.0 116.52,156.46 117.45,153.69 118.37,160.15 119.29,163.85 120.22,158.31 121.32,160.15 122.62,162.0 123.54,167.54 124.46,169.38 125.02,150.92 125.75,141.69 126.68,136.15 127.6,133.38 128.71,131.54 129.63,128.77 130.55,126.92 131.48,129.69 132.4,131.54 133.32,128.77 134.25,134.31 135.17,130.62 136.09,126.0 137.02,126.92 137.75,132.46 138.68,131.54 139.6,136.15 140.52,141.69 141.45,150.92 142.37,158.31 143.48,169.38 144.77,176.77 145.69,184.15 147.17,191.54 148.46,197.08 149.75,200.77 151.23,203.54 153.08,204.09" fill="none" stroke="#888" stroke-width="1.6" stroke-linejoin="round"/>
<polyline points="76.5,204.09 88.46,203.54 90.31,202.62 92.15,200.77 94.0,195.23 95.85,187.85 97.69,180.46 99.17,173.08 100.46,163.85 101.75,154.62 102.86,145.38 104.15,138.0 105.45,130.62 106.55,126.0 107.48,125.08 108.4,130.62 109.14,136.15 110.06,141.69 110.98,149.08 111.91,158.31 112.83,163.85 113.94,169.38 115.05,174.92 116.15,180.46 117.26,184.15 118.37,187.85 119.48,191.54 120.77,195.23 122.25,198.92 123.91,201.69 126.31,203.17 129.08,203.91 160.46,204.09" fill="none" stroke="#000" stroke-width="1.7" stroke-dasharray="1.6 1.8" stroke-linejoin="round"/>
<polyline points="76.5,204.09 81.08,203.54 84.77,202.25 88.46,200.4 92.15,198.0 95.85,195.23 99.54,193.75 103.23,191.54 106.92,188.77 109.69,186.92 111.54,185.08 113.38,184.15 114.31,181.38 115.23,173.08 116.15,167.54 117.08,162.0 118.0,156.46 118.92,150.92 120.22,147.23 121.69,143.54 122.62,141.69 123.54,136.15 124.46,132.46 125.38,130.62 126.86,129.69 128.15,128.77 129.45,126.92 130.37,126.0 131.48,129.69 132.77,130.62 133.69,134.31 134.62,139.85 135.54,143.54 136.46,149.08 137.38,152.77 138.31,160.15 139.23,165.69 140.15,173.08 141.08,180.46 142.0,186.0 142.92,189.69 143.85,191.54 145.32,195.23 146.62,198.92 147.91,201.69 149.38,203.17 151.23,204.09 160.46,204.09" fill="none" stroke="#000" stroke-width="1.7" stroke-linejoin="round"/>
<rect x="76.5" y="120.5" width="84.0" height="83.6" fill="none" stroke="#000" stroke-width="1.4"/>
<line x1="76.5" y1="204.1" x2="160.5" y2="204.1" stroke="#000" stroke-width="1.6"/>
<line x1="75.5" y1="172.7" x2="160.5" y2="172.7" stroke="#000" stroke-width="1.5"/>
<line x1="74.7" y1="125.5" x2="76.5" y2="125.5" stroke="#000" stroke-width="1.0"/>
<text x="74.2" y="127.9" font-size="4.3" font-weight="normal" text-anchor="end" fill="#222" letter-spacing="0.45">100</text>
<line x1="74.7" y1="141.22" x2="76.5" y2="141.22" stroke="#000" stroke-width="1.0"/>
<text x="74.2" y="143.62" font-size="4.3" font-weight="normal" text-anchor="end" fill="#222" letter-spacing="0.45">80</text>
<line x1="74.7" y1="156.94" x2="76.5" y2="156.94" stroke="#000" stroke-width="1.0"/>
<text x="74.2" y="159.34" font-size="4.3" font-weight="normal" text-anchor="end" fill="#222" letter-spacing="0.45">60</text>
<line x1="74.7" y1="172.66" x2="76.5" y2="172.66" stroke="#000" stroke-width="1.0"/>
<text x="74.2" y="175.06" font-size="4.3" font-weight="normal" text-anchor="end" fill="#222" letter-spacing="0.45">40</text>
<line x1="74.7" y1="188.38" x2="76.5" y2="188.38" stroke="#000" stroke-width="1.0"/>
<text x="74.2" y="190.78" font-size="4.3" font-weight="normal" text-anchor="end" fill="#222" letter-spacing="0.45">20</text>
<line x1="74.7" y1="204.1" x2="76.5" y2="204.1" stroke="#000" stroke-width="1.0"/>
<text x="74.2" y="206.5" font-size="4.3" font-weight="normal" text-anchor="end" fill="#222" letter-spacing="0.45">0</text>
<text x="85.07" y="213.29999999999998" font-size="4.7" font-weight="normal" text-anchor="middle" fill="#222" letter-spacing="0.3">0</text>
<text x="94.14" y="213.29999999999998" font-size="4.7" font-weight="normal" text-anchor="middle" fill="#222" letter-spacing="0.3">10<tspan dy="-1.9" font-size="3.4">2</tspan></text>
<text x="114.72" y="213.29999999999998" font-size="4.7" font-weight="normal" text-anchor="middle" fill="#222" letter-spacing="0.3">10<tspan dy="-1.9" font-size="3.4">3</tspan></text>
<text x="134.63" y="213.29999999999998" font-size="4.7" font-weight="normal" text-anchor="middle" fill="#222" letter-spacing="0.3">10<tspan dy="-1.9" font-size="3.4">4</tspan></text>
<text x="153.7" y="213.29999999999998" font-size="4.7" font-weight="normal" text-anchor="middle" fill="#222" letter-spacing="0.3">10<tspan dy="-1.9" font-size="3.4">5</tspan></text>
<line x1="78.5" y1="204.1" x2="78.5" y2="205.4" stroke="#333" stroke-width="0.6"/>
<line x1="80.55" y1="204.1" x2="80.55" y2="205.4" stroke="#333" stroke-width="0.6"/>
<line x1="82.6" y1="204.1" x2="82.6" y2="205.4" stroke="#333" stroke-width="0.6"/>
<line x1="84.65" y1="204.1" x2="84.65" y2="205.4" stroke="#333" stroke-width="0.6"/>
<line x1="86.71" y1="204.1" x2="86.71" y2="205.4" stroke="#333" stroke-width="0.6"/>
<line x1="88.76" y1="204.1" x2="88.76" y2="205.4" stroke="#333" stroke-width="0.6"/>
<line x1="90.81" y1="204.1" x2="90.81" y2="205.4" stroke="#333" stroke-width="0.6"/>
<line x1="92.86" y1="204.1" x2="92.86" y2="205.4" stroke="#333" stroke-width="0.6"/>
<line x1="94.91" y1="204.1" x2="94.91" y2="205.4" stroke="#333" stroke-width="0.6"/>
<line x1="96.96" y1="204.1" x2="96.96" y2="205.4" stroke="#333" stroke-width="0.6"/>
<line x1="99.01" y1="204.1" x2="99.01" y2="205.4" stroke="#333" stroke-width="0.6"/>
<line x1="101.06" y1="204.1" x2="101.06" y2="205.4" stroke="#333" stroke-width="0.6"/>
<line x1="103.12" y1="204.1" x2="103.12" y2="205.4" stroke="#333" stroke-width="0.6"/>
<line x1="105.17" y1="204.1" x2="105.17" y2="205.4" stroke="#333" stroke-width="0.6"/>
<line x1="107.22" y1="204.1" x2="107.22" y2="205.4" stroke="#333" stroke-width="0.6"/>
<line x1="109.27" y1="204.1" x2="109.27" y2="205.4" stroke="#333" stroke-width="0.6"/>
<line x1="111.32" y1="204.1" x2="111.32" y2="205.4" stroke="#333" stroke-width="0.6"/>
<line x1="113.37" y1="204.1" x2="113.37" y2="205.4" stroke="#333" stroke-width="0.6"/>
<line x1="115.42" y1="204.1" x2="115.42" y2="205.4" stroke="#333" stroke-width="0.6"/>
<line x1="117.47" y1="204.1" x2="117.47" y2="205.4" stroke="#333" stroke-width="0.6"/>
<line x1="119.53" y1="204.1" x2="119.53" y2="205.4" stroke="#333" stroke-width="0.6"/>
<line x1="121.58" y1="204.1" x2="121.58" y2="205.4" stroke="#333" stroke-width="0.6"/>
<line x1="123.63" y1="204.1" x2="123.63" y2="205.4" stroke="#333" stroke-width="0.6"/>
<line x1="125.68" y1="204.1" x2="125.68" y2="205.4" stroke="#333" stroke-width="0.6"/>
<line x1="127.73" y1="204.1" x2="127.73" y2="205.4" stroke="#333" stroke-width="0.6"/>
<line x1="129.78" y1="204.1" x2="129.78" y2="205.4" stroke="#333" stroke-width="0.6"/>
<line x1="131.83" y1="204.1" x2="131.83" y2="205.4" stroke="#333" stroke-width="0.6"/>
<line x1="133.88" y1="204.1" x2="133.88" y2="205.4" stroke="#333" stroke-width="0.6"/>
<line x1="135.94" y1="204.1" x2="135.94" y2="205.4" stroke="#333" stroke-width="0.6"/>
<line x1="137.99" y1="204.1" x2="137.99" y2="205.4" stroke="#333" stroke-width="0.6"/>
<line x1="140.04" y1="204.1" x2="140.04" y2="205.4" stroke="#333" stroke-width="0.6"/>
<line x1="142.09" y1="204.1" x2="142.09" y2="205.4" stroke="#333" stroke-width="0.6"/>
<line x1="144.14" y1="204.1" x2="144.14" y2="205.4" stroke="#333" stroke-width="0.6"/>
<line x1="146.19" y1="204.1" x2="146.19" y2="205.4" stroke="#333" stroke-width="0.6"/>
<line x1="148.24" y1="204.1" x2="148.24" y2="205.4" stroke="#333" stroke-width="0.6"/>
<line x1="150.29" y1="204.1" x2="150.29" y2="205.4" stroke="#333" stroke-width="0.6"/>
<line x1="152.35" y1="204.1" x2="152.35" y2="205.4" stroke="#333" stroke-width="0.6"/>
<line x1="154.4" y1="204.1" x2="154.4" y2="205.4" stroke="#333" stroke-width="0.6"/>
<line x1="156.45" y1="204.1" x2="156.45" y2="205.4" stroke="#333" stroke-width="0.6"/>
<line x1="158.5" y1="204.1" x2="158.5" y2="205.4" stroke="#333" stroke-width="0.6"/>
<polygon points="189.38,205.4 189.38,205.38 194.92,203.54 198.62,201.69 201.38,198.92 203.23,191.54 204.15,187.85 206.0,189.69 207.85,186.92 209.69,174.92 210.62,165.69 211.54,162.92 212.46,162.0 213.38,165.69 214.31,163.85 215.23,162.92 216.15,164.77 217.08,162.92 218.0,162.92 218.92,162.0 219.85,162.92 220.77,164.77 221.69,167.54 222.62,174.92 223.54,177.69 224.46,178.62 225.38,174.92 226.31,169.38 227.23,165.69 228.15,162.0 229.08,160.15 230.0,159.23 230.92,162.0 231.85,165.69 232.77,167.54 234.06,165.69 235.54,163.85 236.83,160.15 238.31,154.62 239.6,150.92 241.08,145.38 242.55,141.69 243.85,136.15 245.14,133.38 246.62,131.54 247.72,134.31 248.83,130.62 249.94,132.46 251.23,138.0 252.15,139.85 253.08,141.69 254.0,136.15 254.92,130.62 255.85,125.08 256.77,138.0 257.69,150.92 258.62,162.0 259.54,169.38 260.46,178.62 261.38,186.0 262.31,191.54 263.23,196.15 264.52,200.77 266.0,203.54 267.85,204.83 272.46,205.38 272.46,205.4" fill="#e2e2e2" stroke="none"/>
<polyline points="189.38,205.38 194.92,203.54 198.62,201.69 201.38,198.92 203.23,191.54 204.15,187.85 206.0,189.69 207.85,186.92 209.69,174.92 210.62,165.69 211.54,162.92 212.46,162.0 213.38,165.69 214.31,163.85 215.23,162.92 216.15,164.77 217.08,162.92 218.0,162.92 218.92,162.0 219.85,162.92 220.77,164.77 221.69,167.54 222.62,174.92 223.54,177.69 224.46,178.62 225.38,174.92 226.31,169.38 227.23,165.69 228.15,162.0 229.08,160.15 230.0,159.23 230.92,162.0 231.85,165.69 232.77,167.54 234.06,165.69 235.54,163.85 236.83,160.15 238.31,154.62 239.6,150.92 241.08,145.38 242.55,141.69 243.85,136.15 245.14,133.38 246.62,131.54 247.72,134.31 248.83,130.62 249.94,132.46 251.23,138.0 252.15,139.85 253.08,141.69 254.0,136.15 254.92,130.62 255.85,125.08 256.77,138.0 257.69,150.92 258.62,162.0 259.54,169.38 260.46,178.62 261.38,186.0 262.31,191.54 263.23,196.15 264.52,200.77 266.0,203.54 267.85,204.83 272.46,205.38" fill="none" stroke="#888" stroke-width="1.6" stroke-linejoin="round"/>
<polyline points="189.38,205.38 198.62,204.46 202.31,202.62 205.08,198.92 207.85,191.54 209.69,184.15 211.54,176.77 213.02,167.54 214.31,156.46 215.23,147.23 216.15,139.85 217.08,136.15 218.0,134.31 218.92,130.62 219.85,127.85 220.77,125.08 221.69,130.62 222.62,138.0 223.54,147.23 224.46,154.62 225.38,160.15 226.31,164.77 227.23,169.38 228.52,174.92 229.63,180.46 230.92,186.0 232.22,191.54 233.69,197.08 235.17,200.77 236.46,203.54 238.31,205.02 241.08,205.38 272.46,205.38" fill="none" stroke="#000" stroke-width="1.7" stroke-dasharray="1.6 1.8" stroke-linejoin="round"/>
<polyline points="189.38,198.0 190.31,200.77 192.15,199.85 194.0,200.77 195.85,198.92 197.69,197.08 199.54,196.15 201.38,197.08 203.23,196.15 205.08,195.23 206.92,194.31 208.77,193.38 210.62,194.31 212.46,192.46 214.31,193.38 215.6,195.23 216.71,193.38 218.0,191.54 219.48,188.77 220.77,186.92 222.25,183.23 223.54,179.54 224.83,175.85 226.31,170.31 227.78,166.62 229.08,162.92 230.37,160.15 231.85,158.31 233.14,157.38 234.25,161.08 235.17,163.85 236.09,161.08 237.38,154.62 238.68,150.92 239.78,148.15 241.08,146.31 242.0,143.54 242.92,139.85 243.85,136.15 244.77,133.38 245.69,131.54 246.62,130.62 247.54,132.46 248.46,130.62 249.38,128.77 250.31,126.92 251.23,126.0 252.15,130.62 253.08,138.0 254.0,143.54 254.92,149.08 255.85,152.77 256.77,158.31 257.69,162.92 258.62,167.54 259.54,173.08 260.46,178.62 261.38,186.0 262.31,191.54 263.23,197.08 264.71,201.69 266.0,204.09 267.85,205.38 272.46,205.38" fill="none" stroke="#000" stroke-width="1.7" stroke-linejoin="round"/>
<rect x="188.8" y="120.5" width="84.0" height="84.9" fill="none" stroke="#000" stroke-width="1.4"/>
<line x1="188.8" y1="205.4" x2="272.8" y2="205.4" stroke="#000" stroke-width="1.6"/>
<line x1="187.8" y1="173.1" x2="272.8" y2="173.1" stroke="#000" stroke-width="1.5"/>
<line x1="187.0" y1="125.5" x2="188.8" y2="125.5" stroke="#000" stroke-width="1.0"/>
<text x="186.5" y="127.9" font-size="4.3" font-weight="normal" text-anchor="end" fill="#222" letter-spacing="0.45">100</text>
<line x1="187.0" y1="141.48" x2="188.8" y2="141.48" stroke="#000" stroke-width="1.0"/>
<text x="186.5" y="143.88" font-size="4.3" font-weight="normal" text-anchor="end" fill="#222" letter-spacing="0.45">80</text>
<line x1="187.0" y1="157.46" x2="188.8" y2="157.46" stroke="#000" stroke-width="1.0"/>
<text x="186.5" y="159.86" font-size="4.3" font-weight="normal" text-anchor="end" fill="#222" letter-spacing="0.45">60</text>
<line x1="187.0" y1="173.44" x2="188.8" y2="173.44" stroke="#000" stroke-width="1.0"/>
<text x="186.5" y="175.84" font-size="4.3" font-weight="normal" text-anchor="end" fill="#222" letter-spacing="0.45">40</text>
<line x1="187.0" y1="189.42000000000002" x2="188.8" y2="189.42000000000002" stroke="#000" stroke-width="1.0"/>
<text x="186.5" y="191.82" font-size="4.3" font-weight="normal" text-anchor="end" fill="#222" letter-spacing="0.45">20</text>
<line x1="187.0" y1="205.4" x2="188.8" y2="205.4" stroke="#000" stroke-width="1.0"/>
<text x="186.5" y="207.8" font-size="4.3" font-weight="normal" text-anchor="end" fill="#222" letter-spacing="0.45">0</text>
<text x="197.37" y="214.6" font-size="4.7" font-weight="normal" text-anchor="middle" fill="#222" letter-spacing="0.3">0</text>
<text x="206.44" y="214.6" font-size="4.7" font-weight="normal" text-anchor="middle" fill="#222" letter-spacing="0.3">10<tspan dy="-1.9" font-size="3.4">2</tspan></text>
<text x="227.02" y="214.6" font-size="4.7" font-weight="normal" text-anchor="middle" fill="#222" letter-spacing="0.3">10<tspan dy="-1.9" font-size="3.4">3</tspan></text>
<text x="246.93" y="214.6" font-size="4.7" font-weight="normal" text-anchor="middle" fill="#222" letter-spacing="0.3">10<tspan dy="-1.9" font-size="3.4">4</tspan></text>
<text x="266.0" y="214.6" font-size="4.7" font-weight="normal" text-anchor="middle" fill="#222" letter-spacing="0.3">10<tspan dy="-1.9" font-size="3.4">5</tspan></text>
<line x1="190.8" y1="205.4" x2="190.8" y2="206.70000000000002" stroke="#333" stroke-width="0.6"/>
<line x1="192.85" y1="205.4" x2="192.85" y2="206.70000000000002" stroke="#333" stroke-width="0.6"/>
<line x1="194.9" y1="205.4" x2="194.9" y2="206.70000000000002" stroke="#333" stroke-width="0.6"/>
<line x1="196.95" y1="205.4" x2="196.95" y2="206.70000000000002" stroke="#333" stroke-width="0.6"/>
<line x1="199.01" y1="205.4" x2="199.01" y2="206.70000000000002" stroke="#333" stroke-width="0.6"/>
<line x1="201.06" y1="205.4" x2="201.06" y2="206.70000000000002" stroke="#333" stroke-width="0.6"/>
<line x1="203.11" y1="205.4" x2="203.11" y2="206.70000000000002" stroke="#333" stroke-width="0.6"/>
<line x1="205.16" y1="205.4" x2="205.16" y2="206.70000000000002" stroke="#333" stroke-width="0.6"/>
<line x1="207.21" y1="205.4" x2="207.21" y2="206.70000000000002" stroke="#333" stroke-width="0.6"/>
<line x1="209.26" y1="205.4" x2="209.26" y2="206.70000000000002" stroke="#333" stroke-width="0.6"/>
<line x1="211.31" y1="205.4" x2="211.31" y2="206.70000000000002" stroke="#333" stroke-width="0.6"/>
<line x1="213.36" y1="205.4" x2="213.36" y2="206.70000000000002" stroke="#333" stroke-width="0.6"/>
<line x1="215.42" y1="205.4" x2="215.42" y2="206.70000000000002" stroke="#333" stroke-width="0.6"/>
<line x1="217.47" y1="205.4" x2="217.47" y2="206.70000000000002" stroke="#333" stroke-width="0.6"/>
<line x1="219.52" y1="205.4" x2="219.52" y2="206.70000000000002" stroke="#333" stroke-width="0.6"/>
<line x1="221.57" y1="205.4" x2="221.57" y2="206.70000000000002" stroke="#333" stroke-width="0.6"/>
<line x1="223.62" y1="205.4" x2="223.62" y2="206.70000000000002" stroke="#333" stroke-width="0.6"/>
<line x1="225.67" y1="205.4" x2="225.67" y2="206.70000000000002" stroke="#333" stroke-width="0.6"/>
<line x1="227.72" y1="205.4" x2="227.72" y2="206.70000000000002" stroke="#333" stroke-width="0.6"/>
<line x1="229.77" y1="205.4" x2="229.77" y2="206.70000000000002" stroke="#333" stroke-width="0.6"/>
<line x1="231.83" y1="205.4" x2="231.83" y2="206.70000000000002" stroke="#333" stroke-width="0.6"/>
<line x1="233.88" y1="205.4" x2="233.88" y2="206.70000000000002" stroke="#333" stroke-width="0.6"/>
<line x1="235.93" y1="205.4" x2="235.93" y2="206.70000000000002" stroke="#333" stroke-width="0.6"/>
<line x1="237.98" y1="205.4" x2="237.98" y2="206.70000000000002" stroke="#333" stroke-width="0.6"/>
<line x1="240.03" y1="205.4" x2="240.03" y2="206.70000000000002" stroke="#333" stroke-width="0.6"/>
<line x1="242.08" y1="205.4" x2="242.08" y2="206.70000000000002" stroke="#333" stroke-width="0.6"/>
<line x1="244.13" y1="205.4" x2="244.13" y2="206.70000000000002" stroke="#333" stroke-width="0.6"/>
<line x1="246.18" y1="205.4" x2="246.18" y2="206.70000000000002" stroke="#333" stroke-width="0.6"/>
<line x1="248.24" y1="205.4" x2="248.24" y2="206.70000000000002" stroke="#333" stroke-width="0.6"/>
<line x1="250.29" y1="205.4" x2="250.29" y2="206.70000000000002" stroke="#333" stroke-width="0.6"/>
<line x1="252.34" y1="205.4" x2="252.34" y2="206.70000000000002" stroke="#333" stroke-width="0.6"/>
<line x1="254.39" y1="205.4" x2="254.39" y2="206.70000000000002" stroke="#333" stroke-width="0.6"/>
<line x1="256.44" y1="205.4" x2="256.44" y2="206.70000000000002" stroke="#333" stroke-width="0.6"/>
<line x1="258.49" y1="205.4" x2="258.49" y2="206.70000000000002" stroke="#333" stroke-width="0.6"/>
<line x1="260.54" y1="205.4" x2="260.54" y2="206.70000000000002" stroke="#333" stroke-width="0.6"/>
<line x1="262.59" y1="205.4" x2="262.59" y2="206.70000000000002" stroke="#333" stroke-width="0.6"/>
<line x1="264.65" y1="205.4" x2="264.65" y2="206.70000000000002" stroke="#333" stroke-width="0.6"/>
<line x1="266.7" y1="205.4" x2="266.7" y2="206.70000000000002" stroke="#333" stroke-width="0.6"/>
<line x1="268.75" y1="205.4" x2="268.75" y2="206.70000000000002" stroke="#333" stroke-width="0.6"/>
<line x1="270.8" y1="205.4" x2="270.8" y2="206.70000000000002" stroke="#333" stroke-width="0.6"/>
<polygon points="76.5,308.5 76.5,308.5 88.46,308.15 94.0,307.23 97.69,305.38 99.54,302.62 101.38,295.23 102.31,287.85 103.23,278.62 104.15,269.38 105.08,256.46 105.63,245.38 106.37,236.15 106.92,232.46 107.85,234.31 108.77,238.0 109.69,230.62 110.62,226.92 111.54,226.0 112.09,232.46 112.83,241.69 113.57,250.92 114.31,258.31 115.23,263.85 116.15,260.15 117.08,262.92 118.0,265.69 118.92,269.38 119.85,271.23 120.77,273.08 121.69,273.08 122.62,271.23 123.54,269.38 124.46,267.54 125.38,269.38 126.31,273.08 127.23,269.38 128.15,267.54 129.08,265.69 130.0,267.54 130.92,263.85 131.85,262.92 132.77,264.77 133.69,267.54 134.62,269.38 135.54,268.46 136.46,271.23 137.38,274.92 138.31,275.85 139.23,278.62 140.15,281.38 141.08,284.15 142.0,289.69 142.92,295.23 143.85,298.92 144.77,302.62 145.69,305.38 147.54,307.23 151.23,308.15 160.46,308.5 160.46,308.5" fill="#e2e2e2" stroke="none"/>
<polyline points="76.5,308.5 88.46,308.15 94.0,307.23 97.69,305.38 99.54,302.62 101.38,295.23 102.31,287.85 103.23,278.62 104.15,269.38 105.08,256.46 105.63,245.38 106.37,236.15 106.92,232.46 107.85,234.31 108.77,238.0 109.69,230.62 110.62,226.92 111.54,226.0 112.09,232.46 112.83,241.69 113.57,250.92 114.31,258.31 115.23,263.85 116.15,260.15 117.08,262.92 118.0,265.69 118.92,269.38 119.85,271.23 120.77,273.08 121.69,273.08 122.62,271.23 123.54,269.38 124.46,267.54 125.38,269.38 126.31,273.08 127.23,269.38 128.15,267.54 129.08,265.69 130.0,267.54 130.92,263.85 131.85,262.92 132.77,264.77 133.69,267.54 134.62,269.38 135.54,268.46 136.46,271.23 137.38,274.92 138.31,275.85 139.23,278.62 140.15,281.38 141.08,284.15 142.0,289.69 142.92,295.23 143.85,298.92 144.77,302.62 145.69,305.38 147.54,307.23 151.23,308.15 160.46,308.5" fill="none" stroke="#888" stroke-width="1.6" stroke-linejoin="round"/>
<polyline points="76.5,308.5 88.46,307.78 92.15,306.31 94.92,302.62 97.69,297.08 99.54,289.69 101.02,280.46 101.94,269.38 102.86,258.31 103.78,247.23 104.71,238.0 105.63,232.46 106.55,227.85 107.48,226.0 108.4,228.77 109.14,234.31 110.06,241.69 110.98,250.92 111.91,262.0 112.83,271.23 114.31,278.62 116.15,283.23 117.63,286.0 118.92,289.69 120.22,293.38 121.69,297.08 123.54,300.77 125.38,304.46 127.23,306.31 129.08,307.78 160.46,308.5" fill="none" stroke="#000" stroke-width="1.7" stroke-dasharray="1.6 1.8" stroke-linejoin="round"/>
<polyline points="76.5,308.5 82.92,307.78 86.62,306.31 90.31,304.46 94.0,302.62 97.69,298.92 101.38,291.54 104.15,286.0 106.92,280.46 109.69,275.85 112.46,270.31 114.31,264.77 116.15,259.23 118.0,253.69 119.85,250.0 121.69,245.38 123.54,241.69 125.38,238.0 127.23,235.23 129.08,232.46 130.92,230.62 131.85,226.92 132.77,227.85 133.69,230.62 134.62,234.31 135.54,238.92 136.46,243.54 137.38,248.15 138.31,252.77 139.23,258.31 140.15,264.77 141.08,271.23 142.0,278.62 142.92,286.0 143.85,291.54 144.77,295.23 145.69,298.92 146.62,302.62 147.54,305.38 148.46,307.23 149.38,308.15 160.46,308.5" fill="none" stroke="#000" stroke-width="1.7" stroke-linejoin="round"/>
<rect x="76.5" y="221" width="84.3" height="87.5" fill="none" stroke="#000" stroke-width="1.4"/>
<line x1="76.5" y1="308.5" x2="160.8" y2="308.5" stroke="#000" stroke-width="1.6"/>
<line x1="75.5" y1="275.3" x2="160.8" y2="275.3" stroke="#000" stroke-width="1.5"/>
<line x1="74.7" y1="226.0" x2="76.5" y2="226.0" stroke="#000" stroke-width="1.0"/>
<text x="74.2" y="228.4" font-size="4.3" font-weight="normal" text-anchor="end" fill="#222" letter-spacing="0.45">100</text>
<line x1="74.7" y1="242.5" x2="76.5" y2="242.5" stroke="#000" stroke-width="1.0"/>
<text x="74.2" y="244.9" font-size="4.3" font-weight="normal" text-anchor="end" fill="#222" letter-spacing="0.45">80</text>
<line x1="74.7" y1="259.0" x2="76.5" y2="259.0" stroke="#000" stroke-width="1.0"/>
<text x="74.2" y="261.4" font-size="4.3" font-weight="normal" text-anchor="end" fill="#222" letter-spacing="0.45">60</text>
<line x1="74.7" y1="275.5" x2="76.5" y2="275.5" stroke="#000" stroke-width="1.0"/>
<text x="74.2" y="277.9" font-size="4.3" font-weight="normal" text-anchor="end" fill="#222" letter-spacing="0.45">40</text>
<line x1="74.7" y1="292.0" x2="76.5" y2="292.0" stroke="#000" stroke-width="1.0"/>
<text x="74.2" y="294.4" font-size="4.3" font-weight="normal" text-anchor="end" fill="#222" letter-spacing="0.45">20</text>
<line x1="74.7" y1="308.5" x2="76.5" y2="308.5" stroke="#000" stroke-width="1.0"/>
<text x="74.2" y="310.9" font-size="4.3" font-weight="normal" text-anchor="end" fill="#222" letter-spacing="0.45">0</text>
<text x="85.1" y="317.7" font-size="4.7" font-weight="normal" text-anchor="middle" fill="#222" letter-spacing="0.3">0</text>
<text x="94.2" y="317.7" font-size="4.7" font-weight="normal" text-anchor="middle" fill="#222" letter-spacing="0.3">10<tspan dy="-1.9" font-size="3.4">2</tspan></text>
<text x="114.86" y="317.7" font-size="4.7" font-weight="normal" text-anchor="middle" fill="#222" letter-spacing="0.3">10<tspan dy="-1.9" font-size="3.4">3</tspan></text>
<text x="134.84" y="317.7" font-size="4.7" font-weight="normal" text-anchor="middle" fill="#222" letter-spacing="0.3">10<tspan dy="-1.9" font-size="3.4">4</tspan></text>
<text x="153.97" y="317.7" font-size="4.7" font-weight="normal" text-anchor="middle" fill="#222" letter-spacing="0.3">10<tspan dy="-1.9" font-size="3.4">5</tspan></text>
<line x1="78.5" y1="308.5" x2="78.5" y2="309.8" stroke="#333" stroke-width="0.6"/>
<line x1="80.56" y1="308.5" x2="80.56" y2="309.8" stroke="#333" stroke-width="0.6"/>
<line x1="82.62" y1="308.5" x2="82.62" y2="309.8" stroke="#333" stroke-width="0.6"/>
<line x1="84.68" y1="308.5" x2="84.68" y2="309.8" stroke="#333" stroke-width="0.6"/>
<line x1="86.74" y1="308.5" x2="86.74" y2="309.8" stroke="#333" stroke-width="0.6"/>
<line x1="88.79" y1="308.5" x2="88.79" y2="309.8" stroke="#333" stroke-width="0.6"/>
<line x1="90.85" y1="308.5" x2="90.85" y2="309.8" stroke="#333" stroke-width="0.6"/>
<line x1="92.91" y1="308.5" x2="92.91" y2="309.8" stroke="#333" stroke-width="0.6"/>
<line x1="94.97" y1="308.5" x2="94.97" y2="309.8" stroke="#333" stroke-width="0.6"/>
<line x1="97.03" y1="308.5" x2="97.03" y2="309.8" stroke="#333" stroke-width="0.6"/>
<line x1="99.09" y1="308.5" x2="99.09" y2="309.8" stroke="#333" stroke-width="0.6"/>
<line x1="101.15" y1="308.5" x2="101.15" y2="309.8" stroke="#333" stroke-width="0.6"/>
<line x1="103.21" y1="308.5" x2="103.21" y2="309.8" stroke="#333" stroke-width="0.6"/>
<line x1="105.27" y1="308.5" x2="105.27" y2="309.8" stroke="#333" stroke-width="0.6"/>
<line x1="107.33" y1="308.5" x2="107.33" y2="309.8" stroke="#333" stroke-width="0.6"/>
<line x1="109.38" y1="308.5" x2="109.38" y2="309.8" stroke="#333" stroke-width="0.6"/>
<line x1="111.44" y1="308.5" x2="111.44" y2="309.8" stroke="#333" stroke-width="0.6"/>
<line x1="113.5" y1="308.5" x2="113.5" y2="309.8" stroke="#333" stroke-width="0.6"/>
<line x1="115.56" y1="308.5" x2="115.56" y2="309.8" stroke="#333" stroke-width="0.6"/>
<line x1="117.62" y1="308.5" x2="117.62" y2="309.8" stroke="#333" stroke-width="0.6"/>
<line x1="119.68" y1="308.5" x2="119.68" y2="309.8" stroke="#333" stroke-width="0.6"/>
<line x1="121.74" y1="308.5" x2="121.74" y2="309.8" stroke="#333" stroke-width="0.6"/>
<line x1="123.8" y1="308.5" x2="123.8" y2="309.8" stroke="#333" stroke-width="0.6"/>
<line x1="125.86" y1="308.5" x2="125.86" y2="309.8" stroke="#333" stroke-width="0.6"/>
<line x1="127.92" y1="308.5" x2="127.92" y2="309.8" stroke="#333" stroke-width="0.6"/>
<line x1="129.97" y1="308.5" x2="129.97" y2="309.8" stroke="#333" stroke-width="0.6"/>
<line x1="132.03" y1="308.5" x2="132.03" y2="309.8" stroke="#333" stroke-width="0.6"/>
<line x1="134.09" y1="308.5" x2="134.09" y2="309.8" stroke="#333" stroke-width="0.6"/>
<line x1="136.15" y1="308.5" x2="136.15" y2="309.8" stroke="#333" stroke-width="0.6"/>
<line x1="138.21" y1="308.5" x2="138.21" y2="309.8" stroke="#333" stroke-width="0.6"/>
<line x1="140.27" y1="308.5" x2="140.27" y2="309.8" stroke="#333" stroke-width="0.6"/>
<line x1="142.33" y1="308.5" x2="142.33" y2="309.8" stroke="#333" stroke-width="0.6"/>
<line x1="144.39" y1="308.5" x2="144.39" y2="309.8" stroke="#333" stroke-width="0.6"/>
<line x1="146.45" y1="308.5" x2="146.45" y2="309.8" stroke="#333" stroke-width="0.6"/>
<line x1="148.51" y1="308.5" x2="148.51" y2="309.8" stroke="#333" stroke-width="0.6"/>
<line x1="150.56" y1="308.5" x2="150.56" y2="309.8" stroke="#333" stroke-width="0.6"/>
<line x1="152.62" y1="308.5" x2="152.62" y2="309.8" stroke="#333" stroke-width="0.6"/>
<line x1="154.68" y1="308.5" x2="154.68" y2="309.8" stroke="#333" stroke-width="0.6"/>
<line x1="156.74" y1="308.5" x2="156.74" y2="309.8" stroke="#333" stroke-width="0.6"/>
<line x1="158.8" y1="308.5" x2="158.8" y2="309.8" stroke="#333" stroke-width="0.6"/>
<polygon points="189.38,306.7 189.38,306.31 204.15,305.94 209.69,305.38 212.46,302.62 214.31,295.23 216.15,287.85 217.45,274.92 218.55,267.54 219.48,269.38 220.77,265.69 221.69,263.85 222.62,262.0 223.54,258.31 224.46,250.92 225.38,247.23 226.31,243.54 227.23,245.38 228.15,249.08 229.08,256.46 230.0,260.15 230.92,256.46 231.85,250.92 232.77,245.38 233.69,234.31 234.62,226.0 235.54,232.46 236.46,241.69 237.38,247.23 238.31,250.92 239.23,254.62 240.15,256.46 241.08,258.31 242.0,262.0 242.92,267.54 243.85,269.38 244.77,260.15 245.69,250.92 246.62,247.23 247.54,245.38 248.46,249.08 249.38,241.69 250.31,238.0 251.23,243.54 252.15,247.23 253.08,250.92 254.0,256.46 254.92,265.69 255.85,274.92 256.77,284.15 257.69,291.54 258.62,297.08 259.54,301.69 261.38,304.46 264.15,305.94 272.46,306.31 272.46,306.7" fill="#e2e2e2" stroke="none"/>
<polyline points="189.38,306.31 204.15,305.94 209.69,305.38 212.46,302.62 214.31,295.23 216.15,287.85 217.45,274.92 218.55,267.54 219.48,269.38 220.77,265.69 221.69,263.85 222.62,262.0 223.54,258.31 224.46,250.92 225.38,247.23 226.31,243.54 227.23,245.38 228.15,249.08 229.08,256.46 230.0,260.15 230.92,256.46 231.85,250.92 232.77,245.38 233.69,234.31 234.62,226.0 235.54,232.46 236.46,241.69 237.38,247.23 238.31,250.92 239.23,254.62 240.15,256.46 241.08,258.31 242.0,262.0 242.92,267.54 243.85,269.38 244.77,260.15 245.69,250.92 246.62,247.23 247.54,245.38 248.46,249.08 249.38,241.69 250.31,238.0 251.23,243.54 252.15,247.23 253.08,250.92 254.0,256.46 254.92,265.69 255.85,274.92 256.77,284.15 257.69,291.54 258.62,297.08 259.54,301.69 261.38,304.46 264.15,305.94 272.46,306.31" fill="none" stroke="#888" stroke-width="1.6" stroke-linejoin="round"/>
<polyline points="189.38,306.31 200.46,305.94 204.15,304.46 206.92,300.77 209.69,293.38 211.54,286.0 213.02,276.77 213.94,267.54 214.86,256.46 215.78,245.38 216.71,238.0 218.0,234.31 218.92,230.62 219.85,227.85 220.77,226.0 221.69,230.62 222.62,238.0 223.54,247.23 224.46,256.46 225.38,265.69 226.31,273.08 227.23,276.77 228.52,280.46 229.63,284.15 230.92,289.69 232.22,295.23 233.69,299.85 235.54,303.54 237.38,305.38 241.08,306.31 272.46,306.31" fill="none" stroke="#000" stroke-width="1.7" stroke-dasharray="1.6 1.8" stroke-linejoin="round"/>
<polyline points="189.38,286.92 189.75,304.46 191.23,305.38 194.92,304.46 198.62,302.62 202.31,300.77 206.0,298.92 208.77,297.08 211.54,294.31 214.31,290.62 217.08,285.08 218.92,282.31 220.77,278.62 222.62,274.92 224.46,271.23 226.31,268.46 228.15,265.69 230.0,262.92 231.85,260.15 233.69,256.46 235.54,252.77 237.38,250.0 238.31,250.92 239.23,247.23 240.71,243.54 242.0,240.77 243.29,237.08 244.77,233.38 246.06,230.62 246.98,229.69 248.09,227.85 249.02,230.62 249.94,234.31 250.86,239.85 251.78,245.38 252.71,249.08 253.63,252.77 254.55,258.31 255.48,265.69 256.4,273.08 257.32,282.31 258.25,289.69 259.17,295.23 260.46,300.77 261.75,303.54 263.23,305.38 266.0,306.31 272.46,306.31" fill="none" stroke="#000" stroke-width="1.7" stroke-linejoin="round"/>
<rect x="188.8" y="220.8" width="84.0" height="85.9" fill="none" stroke="#000" stroke-width="1.4"/>
<line x1="188.8" y1="306.7" x2="272.8" y2="306.7" stroke="#000" stroke-width="1.6"/>
<line x1="187.8" y1="274" x2="272.8" y2="274" stroke="#000" stroke-width="1.5"/>
<line x1="187.0" y1="225.8" x2="188.8" y2="225.8" stroke="#000" stroke-width="1.0"/>
<text x="186.5" y="228.2" font-size="4.3" font-weight="normal" text-anchor="end" fill="#222" letter-spacing="0.45">100</text>
<line x1="187.0" y1="241.98000000000002" x2="188.8" y2="241.98000000000002" stroke="#000" stroke-width="1.0"/>
<text x="186.5" y="244.38" font-size="4.3" font-weight="normal" text-anchor="end" fill="#222" letter-spacing="0.45">80</text>
<line x1="187.0" y1="258.16" x2="188.8" y2="258.16" stroke="#000" stroke-width="1.0"/>
<text x="186.5" y="260.56" font-size="4.3" font-weight="normal" text-anchor="end" fill="#222" letter-spacing="0.45">60</text>
<line x1="187.0" y1="274.34" x2="188.8" y2="274.34" stroke="#000" stroke-width="1.0"/>
<text x="186.5" y="276.74" font-size="4.3" font-weight="normal" text-anchor="end" fill="#222" letter-spacing="0.45">40</text>
<line x1="187.0" y1="290.52" x2="188.8" y2="290.52" stroke="#000" stroke-width="1.0"/>
<text x="186.5" y="292.92" font-size="4.3" font-weight="normal" text-anchor="end" fill="#222" letter-spacing="0.45">20</text>
<line x1="187.0" y1="306.7" x2="188.8" y2="306.7" stroke="#000" stroke-width="1.0"/>
<text x="186.5" y="309.1" font-size="4.3" font-weight="normal" text-anchor="end" fill="#222" letter-spacing="0.45">0</text>
<text x="197.37" y="315.9" font-size="4.7" font-weight="normal" text-anchor="middle" fill="#222" letter-spacing="0.3">0</text>
<text x="206.44" y="315.9" font-size="4.7" font-weight="normal" text-anchor="middle" fill="#222" letter-spacing="0.3">10<tspan dy="-1.9" font-size="3.4">2</tspan></text>
<text x="227.02" y="315.9" font-size="4.7" font-weight="normal" text-anchor="middle" fill="#222" letter-spacing="0.3">10<tspan dy="-1.9" font-size="3.4">3</tspan></text>
<text x="246.93" y="315.9" font-size="4.7" font-weight="normal" text-anchor="middle" fill="#222" letter-spacing="0.3">10<tspan dy="-1.9" font-size="3.4">4</tspan></text>
<text x="266.0" y="315.9" font-size="4.7" font-weight="normal" text-anchor="middle" fill="#222" letter-spacing="0.3">10<tspan dy="-1.9" font-size="3.4">5</tspan></text>
<line x1="190.8" y1="306.7" x2="190.8" y2="308.0" stroke="#333" stroke-width="0.6"/>
<line x1="192.85" y1="306.7" x2="192.85" y2="308.0" stroke="#333" stroke-width="0.6"/>
<line x1="194.9" y1="306.7" x2="194.9" y2="308.0" stroke="#333" stroke-width="0.6"/>
<line x1="196.95" y1="306.7" x2="196.95" y2="308.0" stroke="#333" stroke-width="0.6"/>
<line x1="199.01" y1="306.7" x2="199.01" y2="308.0" stroke="#333" stroke-width="0.6"/>
<line x1="201.06" y1="306.7" x2="201.06" y2="308.0" stroke="#333" stroke-width="0.6"/>
<line x1="203.11" y1="306.7" x2="203.11" y2="308.0" stroke="#333" stroke-width="0.6"/>
<line x1="205.16" y1="306.7" x2="205.16" y2="308.0" stroke="#333" stroke-width="0.6"/>
<line x1="207.21" y1="306.7" x2="207.21" y2="308.0" stroke="#333" stroke-width="0.6"/>
<line x1="209.26" y1="306.7" x2="209.26" y2="308.0" stroke="#333" stroke-width="0.6"/>
<line x1="211.31" y1="306.7" x2="211.31" y2="308.0" stroke="#333" stroke-width="0.6"/>
<line x1="213.36" y1="306.7" x2="213.36" y2="308.0" stroke="#333" stroke-width="0.6"/>
<line x1="215.42" y1="306.7" x2="215.42" y2="308.0" stroke="#333" stroke-width="0.6"/>
<line x1="217.47" y1="306.7" x2="217.47" y2="308.0" stroke="#333" stroke-width="0.6"/>
<line x1="219.52" y1="306.7" x2="219.52" y2="308.0" stroke="#333" stroke-width="0.6"/>
<line x1="221.57" y1="306.7" x2="221.57" y2="308.0" stroke="#333" stroke-width="0.6"/>
<line x1="223.62" y1="306.7" x2="223.62" y2="308.0" stroke="#333" stroke-width="0.6"/>
<line x1="225.67" y1="306.7" x2="225.67" y2="308.0" stroke="#333" stroke-width="0.6"/>
<line x1="227.72" y1="306.7" x2="227.72" y2="308.0" stroke="#333" stroke-width="0.6"/>
<line x1="229.77" y1="306.7" x2="229.77" y2="308.0" stroke="#333" stroke-width="0.6"/>
<line x1="231.83" y1="306.7" x2="231.83" y2="308.0" stroke="#333" stroke-width="0.6"/>
<line x1="233.88" y1="306.7" x2="233.88" y2="308.0" stroke="#333" stroke-width="0.6"/>
<line x1="235.93" y1="306.7" x2="235.93" y2="308.0" stroke="#333" stroke-width="0.6"/>
<line x1="237.98" y1="306.7" x2="237.98" y2="308.0" stroke="#333" stroke-width="0.6"/>
<line x1="240.03" y1="306.7" x2="240.03" y2="308.0" stroke="#333" stroke-width="0.6"/>
<line x1="242.08" y1="306.7" x2="242.08" y2="308.0" stroke="#333" stroke-width="0.6"/>
<line x1="244.13" y1="306.7" x2="244.13" y2="308.0" stroke="#333" stroke-width="0.6"/>
<line x1="246.18" y1="306.7" x2="246.18" y2="308.0" stroke="#333" stroke-width="0.6"/>
<line x1="248.24" y1="306.7" x2="248.24" y2="308.0" stroke="#333" stroke-width="0.6"/>
<line x1="250.29" y1="306.7" x2="250.29" y2="308.0" stroke="#333" stroke-width="0.6"/>
<line x1="252.34" y1="306.7" x2="252.34" y2="308.0" stroke="#333" stroke-width="0.6"/>
<line x1="254.39" y1="306.7" x2="254.39" y2="308.0" stroke="#333" stroke-width="0.6"/>
<line x1="256.44" y1="306.7" x2="256.44" y2="308.0" stroke="#333" stroke-width="0.6"/>
<line x1="258.49" y1="306.7" x2="258.49" y2="308.0" stroke="#333" stroke-width="0.6"/>
<line x1="260.54" y1="306.7" x2="260.54" y2="308.0" stroke="#333" stroke-width="0.6"/>
<line x1="262.59" y1="306.7" x2="262.59" y2="308.0" stroke="#333" stroke-width="0.6"/>
<line x1="264.65" y1="306.7" x2="264.65" y2="308.0" stroke="#333" stroke-width="0.6"/>
<line x1="266.7" y1="306.7" x2="266.7" y2="308.0" stroke="#333" stroke-width="0.6"/>
<line x1="268.75" y1="306.7" x2="268.75" y2="308.0" stroke="#333" stroke-width="0.6"/>
<line x1="270.8" y1="306.7" x2="270.8" y2="308.0" stroke="#333" stroke-width="0.6"/>
<polygon points="26.8,451.3 26.8,451.3 40.92,451.3 43.81,448.85 45.73,443.08 47.65,427.69 49.0,414.23 50.15,400.77 51.5,389.23 52.46,382.5 53.42,381.54 54.38,391.15 55.35,402.69 56.69,412.31 58.23,420.0 59.77,425.77 61.12,429.62 62.46,431.54 63.62,433.46 64.58,436.35 65.54,441.15 66.5,445.96 67.46,448.85 68.81,445.96 70.15,446.92 71.69,447.88 73.62,445.96 75.54,445.0 77.46,446.92 80.35,448.85 83.23,449.81 87.08,450.77 90.92,451.3 96.69,451.3 96.69,451.3" fill="#e2e2e2" stroke="none"/>
<polyline points="26.8,451.3 40.92,451.3 43.81,448.85 45.73,443.08 47.65,427.69 49.0,414.23 50.15,400.77 51.5,389.23 52.46,382.5 53.42,381.54 54.38,391.15 55.35,402.69 56.69,412.31 58.23,420.0 59.77,425.77 61.12,429.62 62.46,431.54 63.62,433.46 64.58,436.35 65.54,441.15 66.5,445.96 67.46,448.85 68.81,445.96 70.15,446.92 71.69,447.88 73.62,445.96 75.54,445.0 77.46,446.92 80.35,448.85 83.23,449.81 87.08,450.77 90.92,451.3 96.69,451.3" fill="none" stroke="#888" stroke-width="1.6" stroke-linejoin="round"/>
<polyline points="53.42,381.54 54.38,387.31 56.31,404.62 58.23,412.31 60.15,418.08 61.69,414.23 63.04,420.0 64.0,423.85 64.38,427.69 64.96,433.46 65.92,441.15 66.88,445.96 67.85,448.85 69.77,450.77 71.69,451.3 77.46,451.3" fill="none" stroke="#000" stroke-width="1.7" stroke-dasharray="1.6 1.8" stroke-linejoin="round"/>
<polyline points="40.92,451.3 43.81,447.88 45.35,443.08 46.69,433.46 48.04,420.0 49.38,406.54 50.54,395.0 51.5,387.31 52.46,382.5 53.42,380.58 54.38,391.15 55.35,400.77 56.69,408.46 57.85,414.23 59.19,418.08 60.15,423.85 61.12,427.69 62.08,429.62 63.04,430.58 64.0,432.5 64.96,435.38 65.92,438.27 66.88,440.19 67.85,441.15 69.77,443.08 71.69,444.04 73.62,444.04 75.54,441.15 76.5,443.08 77.46,444.04 79.38,445.0 82.27,445.96 85.15,446.92 88.04,447.88 90.92,448.85 94.77,450.77 98.62,451.3" fill="none" stroke="#000" stroke-width="1.7" stroke-linejoin="round"/>
<polyline points="26.8,451.3 33.23,451.3 39.0,451.3 41.88,450.77 43.81,447.88 45.35,443.08 46.69,433.46 48.04,420.0 49.38,406.54 50.54,395.0 51.5,387.31 52.46,382.5 53.42,380.58 54.38,385.38 54.96,393.08 55.73,397.88 56.69,400.77 57.85,403.65 58.81,405.58 60.15,406.54 61.12,407.5 62.08,409.42 63.04,411.35 64.0,411.35 64.96,414.23 65.92,418.08 66.88,421.92 67.85,425.77 68.81,426.73 69.77,427.69 70.73,425.77 71.69,427.69 72.65,426.73 73.62,428.65 74.58,426.73 75.54,427.69 76.5,429.62 77.46,430.58 79.38,431.54 80.35,433.46 81.69,433.46 82.85,431.54 84.19,432.5 85.54,430.58 87.08,431.54 89.0,432.5 90.92,434.42 92.46,437.31 93.81,441.15 95.15,444.04 96.69,446.92 98.23,448.85 99.58,450.77 101.5,451.3 104.38,451.3" fill="none" stroke="#000" stroke-width="1.7" stroke-linejoin="round"/>
<rect x="26.8" y="376.5" width="81.5" height="74.8" fill="none" stroke="#000" stroke-width="1.4"/>
<line x1="26.8" y1="451.3" x2="108.3" y2="451.3" stroke="#000" stroke-width="1.6"/>
<polygon points="271.38,454.6 271.38,454.6 281.0,453.65 284.85,450.77 287.73,445.0 289.65,435.38 291.58,423.85 292.92,414.23 294.08,406.54 295.42,400.77 296.38,403.65 297.35,408.46 298.69,416.15 300.23,422.88 302.15,427.69 304.08,431.54 305.62,435.38 306.96,439.23 308.31,442.12 309.85,444.04 311.77,445.0 313.69,445.96 315.62,446.92 317.54,448.85 319.46,450.77 322.35,452.69 325.23,454.04 329.08,454.6 329.08,454.6" fill="#e2e2e2" stroke="none"/>
<polyline points="271.38,454.6 281.0,453.65 284.85,450.77 287.73,445.0 289.65,435.38 291.58,423.85 292.92,414.23 294.08,406.54 295.42,400.77 296.38,403.65 297.35,408.46 298.69,416.15 300.23,422.88 302.15,427.69 304.08,431.54 305.62,435.38 306.96,439.23 308.31,442.12 309.85,444.04 311.77,445.0 313.69,445.96 315.62,446.92 317.54,448.85 319.46,450.77 322.35,452.69 325.23,454.04 329.08,454.6" fill="none" stroke="#888" stroke-width="1.6" stroke-linejoin="round"/>
<polyline points="282.92,452.69 286.77,446.92 289.65,437.31 291.58,423.85 293.5,408.46 295.42,395.0 296.38,391.15 297.35,387.31 298.69,383.46 299.85,387.31 300.62,393.08 301.38,398.85 302.15,404.62 303.12,408.46 304.46,414.23 306.0,420.0 306.96,427.69 307.92,435.38 308.88,441.15 310.23,446.92 311.77,450.77 313.69,452.69 317.54,454.04 325.23,454.6" fill="none" stroke="#000" stroke-width="1.7" stroke-dasharray="1.6 1.8" stroke-linejoin="round"/>
<polyline points="284.85,445.96 286.77,441.15 288.31,435.38 289.65,427.69 290.62,418.08 291.58,408.46 292.54,398.85 293.5,389.23 294.46,381.54 295.81,389.23 296.77,400.77 297.92,408.46 299.27,412.31 300.23,418.08 301.19,421.92 302.15,424.81 303.12,423.85 304.08,420.0 305.04,421.92 306.0,420.96 306.96,422.88 307.92,423.85 308.88,425.77 309.85,427.69 310.81,429.62 311.77,431.54 312.73,429.62 313.69,427.69 314.65,431.54 315.62,435.38 316.58,439.23 317.54,442.12 319.46,445.0 321.38,446.92 323.31,448.85 325.23,450.77 329.08,452.69 332.92,454.04 336.77,454.6" fill="none" stroke="#000" stroke-width="1.7" stroke-linejoin="round"/>
<polyline points="271.0,445.0 271.38,452.69 272.35,454.6 274.27,453.65 277.15,451.73 280.04,450.77 282.92,448.85 284.85,445.96 286.77,441.15 288.31,435.38 289.65,427.69 290.62,418.08 291.58,408.46 292.54,398.85 293.5,389.23 294.08,381.54 295.04,385.38 295.81,393.08 296.77,400.77 297.92,402.69 299.27,400.77 300.62,402.69 301.77,401.73 302.73,399.81 303.69,398.85 304.65,395.0 305.62,389.23 306.58,385.38 307.54,382.5 308.5,381.54 309.46,384.42 310.42,389.23 311.38,395.0 312.15,400.77 313.12,404.62 314.08,403.65 315.23,408.46 316.38,412.31 317.54,418.08 318.5,416.15 319.46,414.23 320.42,420.0 321.38,427.69 322.35,433.46 323.69,439.23 325.23,444.04 327.15,446.92 329.08,449.81 331.0,451.73 332.92,453.08 334.85,454.04 336.77,454.6" fill="none" stroke="#000" stroke-width="1.7" stroke-linejoin="round"/>
<rect x="270.6" y="376.5" width="80.6" height="78.1" fill="none" stroke="#000" stroke-width="1.4"/>
<line x1="270.6" y1="454.6" x2="351.2" y2="454.6" stroke="#000" stroke-width="1.6"/>
<line x1="25.0" y1="380.3" x2="26.8" y2="380.3" stroke="#000" stroke-width="1.0"/>
<text x="24.8" y="382.2" font-size="5.3" font-weight="normal" text-anchor="end" fill="#222" letter-spacing="0.1">100</text>
<line x1="25.0" y1="394.5" x2="26.8" y2="394.5" stroke="#000" stroke-width="1.0"/>
<text x="24.8" y="396.4" font-size="5.3" font-weight="normal" text-anchor="end" fill="#222" letter-spacing="0.1">80</text>
<line x1="25.0" y1="408.7" x2="26.8" y2="408.7" stroke="#000" stroke-width="1.0"/>
<text x="24.8" y="410.6" font-size="5.3" font-weight="normal" text-anchor="end" fill="#222" letter-spacing="0.1">60</text>
<line x1="25.0" y1="422.90000000000003" x2="26.8" y2="422.90000000000003" stroke="#000" stroke-width="1.0"/>
<text x="24.8" y="424.8" font-size="5.3" font-weight="normal" text-anchor="end" fill="#222" letter-spacing="0.1">40</text>
<line x1="25.0" y1="437.1" x2="26.8" y2="437.1" stroke="#000" stroke-width="1.0"/>
<text x="24.8" y="439.0" font-size="5.3" font-weight="normal" text-anchor="end" fill="#222" letter-spacing="0.1">20</text>
<line x1="25.0" y1="451.3" x2="26.8" y2="451.3" stroke="#000" stroke-width="1.0"/>
<text x="24.8" y="453.2" font-size="5.3" font-weight="normal" text-anchor="end" fill="#222" letter-spacing="0.1">0</text>
<text x="36.58" y="460.8" font-size="4.7" font-weight="normal" text-anchor="middle" fill="#222" letter-spacing="0.3">0</text>
<text x="46.36" y="460.8" font-size="4.7" font-weight="normal" text-anchor="middle" fill="#222" letter-spacing="0.3">10<tspan dy="-1.9" font-size="3.4">2</tspan></text>
<text x="66.73" y="460.8" font-size="4.7" font-weight="normal" text-anchor="middle" fill="#222" letter-spacing="0.3">10<tspan dy="-1.9" font-size="3.4">3</tspan></text>
<text x="84.66" y="460.8" font-size="4.7" font-weight="normal" text-anchor="middle" fill="#222" letter-spacing="0.3">10<tspan dy="-1.9" font-size="3.4">4</tspan></text>
<text x="102.27" y="460.8" font-size="4.7" font-weight="normal" text-anchor="middle" fill="#222" letter-spacing="0.3">10<tspan dy="-1.9" font-size="3.4">5</tspan></text>
<line x1="28.8" y1="451.3" x2="28.8" y2="452.6" stroke="#333" stroke-width="0.6"/>
<line x1="30.79" y1="451.3" x2="30.79" y2="452.6" stroke="#333" stroke-width="0.6"/>
<line x1="32.77" y1="451.3" x2="32.77" y2="452.6" stroke="#333" stroke-width="0.6"/>
<line x1="34.76" y1="451.3" x2="34.76" y2="452.6" stroke="#333" stroke-width="0.6"/>
<line x1="36.75" y1="451.3" x2="36.75" y2="452.6" stroke="#333" stroke-width="0.6"/>
<line x1="38.74" y1="451.3" x2="38.74" y2="452.6" stroke="#333" stroke-width="0.6"/>
<line x1="40.72" y1="451.3" x2="40.72" y2="452.6" stroke="#333" stroke-width="0.6"/>
<line x1="42.71" y1="451.3" x2="42.71" y2="452.6" stroke="#333" stroke-width="0.6"/>
<line x1="44.7" y1="451.3" x2="44.7" y2="452.6" stroke="#333" stroke-width="0.6"/>
<line x1="46.68" y1="451.3" x2="46.68" y2="452.6" stroke="#333" stroke-width="0.6"/>
<line x1="48.67" y1="451.3" x2="48.67" y2="452.6" stroke="#333" stroke-width="0.6"/>
<line x1="50.66" y1="451.3" x2="50.66" y2="452.6" stroke="#333" stroke-width="0.6"/>
<line x1="52.65" y1="451.3" x2="52.65" y2="452.6" stroke="#333" stroke-width="0.6"/>
<line x1="54.63" y1="451.3" x2="54.63" y2="452.6" stroke="#333" stroke-width="0.6"/>
<line x1="56.62" y1="451.3" x2="56.62" y2="452.6" stroke="#333" stroke-width="0.6"/>
<line x1="58.61" y1="451.3" x2="58.61" y2="452.6" stroke="#333" stroke-width="0.6"/>
<line x1="60.59" y1="451.3" x2="60.59" y2="452.6" stroke="#333" stroke-width="0.6"/>
<line x1="62.58" y1="451.3" x2="62.58" y2="452.6" stroke="#333" stroke-width="0.6"/>
<line x1="64.57" y1="451.3" x2="64.57" y2="452.6" stroke="#333" stroke-width="0.6"/>
<line x1="66.56" y1="451.3" x2="66.56" y2="452.6" stroke="#333" stroke-width="0.6"/>
<line x1="68.54" y1="451.3" x2="68.54" y2="452.6" stroke="#333" stroke-width="0.6"/>
<line x1="70.53" y1="451.3" x2="70.53" y2="452.6" stroke="#333" stroke-width="0.6"/>
<line x1="72.52" y1="451.3" x2="72.52" y2="452.6" stroke="#333" stroke-width="0.6"/>
<line x1="74.51" y1="451.3" x2="74.51" y2="452.6" stroke="#333" stroke-width="0.6"/>
<line x1="76.49" y1="451.3" x2="76.49" y2="452.6" stroke="#333" stroke-width="0.6"/>
<line x1="78.48" y1="451.3" x2="78.48" y2="452.6" stroke="#333" stroke-width="0.6"/>
<line x1="80.47" y1="451.3" x2="80.47" y2="452.6" stroke="#333" stroke-width="0.6"/>
<line x1="82.45" y1="451.3" x2="82.45" y2="452.6" stroke="#333" stroke-width="0.6"/>
<line x1="84.44" y1="451.3" x2="84.44" y2="452.6" stroke="#333" stroke-width="0.6"/>
<line x1="86.43" y1="451.3" x2="86.43" y2="452.6" stroke="#333" stroke-width="0.6"/>
<line x1="88.42" y1="451.3" x2="88.42" y2="452.6" stroke="#333" stroke-width="0.6"/>
<line x1="90.4" y1="451.3" x2="90.4" y2="452.6" stroke="#333" stroke-width="0.6"/>
<line x1="92.39" y1="451.3" x2="92.39" y2="452.6" stroke="#333" stroke-width="0.6"/>
<line x1="94.38" y1="451.3" x2="94.38" y2="452.6" stroke="#333" stroke-width="0.6"/>
<line x1="96.36" y1="451.3" x2="96.36" y2="452.6" stroke="#333" stroke-width="0.6"/>
<line x1="98.35" y1="451.3" x2="98.35" y2="452.6" stroke="#333" stroke-width="0.6"/>
<line x1="100.34" y1="451.3" x2="100.34" y2="452.6" stroke="#333" stroke-width="0.6"/>
<line x1="102.33" y1="451.3" x2="102.33" y2="452.6" stroke="#333" stroke-width="0.6"/>
<line x1="104.31" y1="451.3" x2="104.31" y2="452.6" stroke="#333" stroke-width="0.6"/>
<line x1="106.3" y1="451.3" x2="106.3" y2="452.6" stroke="#333" stroke-width="0.6"/>
<text x="16.5" y="417" font-size="5.8" font-weight="normal" text-anchor="middle" fill="#777" transform="rotate(-90 16.5 417)">% of Max</text>
<text x="17.9" y="471.8" font-size="10.3" font-weight="normal" text-anchor="start" fill="#000" textLength="15.2" lengthAdjust="spacingAndGlyphs">IFN</text>
<text x="35.3" y="471.3" font-size="9.2" font-weight="normal" text-anchor="start" fill="#000">γ</text>
<line x1="47" y1="468.1" x2="103.7" y2="468.1" stroke="#000" stroke-width="1.8"/>
<polygon points="109.2,468.1 103.2,465.1 103.2,471.1" fill="#000"/>
<line x1="268.8" y1="380.3" x2="270.6" y2="380.3" stroke="#000" stroke-width="1.0"/>
<text x="268.6" y="382.2" font-size="5.3" font-weight="normal" text-anchor="end" fill="#222" letter-spacing="0.1">100</text>
<line x1="268.8" y1="395.16" x2="270.6" y2="395.16" stroke="#000" stroke-width="1.0"/>
<text x="268.6" y="397.06" font-size="5.3" font-weight="normal" text-anchor="end" fill="#222" letter-spacing="0.1">80</text>
<line x1="268.8" y1="410.02000000000004" x2="270.6" y2="410.02000000000004" stroke="#000" stroke-width="1.0"/>
<text x="268.6" y="411.92" font-size="5.3" font-weight="normal" text-anchor="end" fill="#222" letter-spacing="0.1">60</text>
<line x1="268.8" y1="424.88" x2="270.6" y2="424.88" stroke="#000" stroke-width="1.0"/>
<text x="268.6" y="426.78" font-size="5.3" font-weight="normal" text-anchor="end" fill="#222" letter-spacing="0.1">40</text>
<line x1="268.8" y1="439.74" x2="270.6" y2="439.74" stroke="#000" stroke-width="1.0"/>
<text x="268.6" y="441.64" font-size="5.3" font-weight="normal" text-anchor="end" fill="#222" letter-spacing="0.1">20</text>
<line x1="268.8" y1="454.6" x2="270.6" y2="454.6" stroke="#000" stroke-width="1.0"/>
<text x="268.6" y="456.5" font-size="5.3" font-weight="normal" text-anchor="end" fill="#222" letter-spacing="0.1">0</text>
<text x="280.27" y="460.8" font-size="4.7" font-weight="normal" text-anchor="middle" fill="#222" letter-spacing="0.3">0</text>
<text x="289.54" y="460.8" font-size="4.7" font-weight="normal" text-anchor="middle" fill="#222" letter-spacing="0.3">10<tspan dy="-1.9" font-size="3.4">2</tspan></text>
<text x="308.48" y="460.8" font-size="4.7" font-weight="normal" text-anchor="middle" fill="#222" letter-spacing="0.3">10<tspan dy="-1.9" font-size="3.4">3</tspan></text>
<text x="326.62" y="460.8" font-size="4.7" font-weight="normal" text-anchor="middle" fill="#222" letter-spacing="0.3">10<tspan dy="-1.9" font-size="3.4">4</tspan></text>
<text x="344.75" y="460.8" font-size="4.7" font-weight="normal" text-anchor="middle" fill="#222" letter-spacing="0.3">10<tspan dy="-1.9" font-size="3.4">5</tspan></text>
<line x1="272.6" y1="454.6" x2="272.6" y2="455.90000000000003" stroke="#333" stroke-width="0.6"/>
<line x1="274.56" y1="454.6" x2="274.56" y2="455.90000000000003" stroke="#333" stroke-width="0.6"/>
<line x1="276.53" y1="454.6" x2="276.53" y2="455.90000000000003" stroke="#333" stroke-width="0.6"/>
<line x1="278.49" y1="454.6" x2="278.49" y2="455.90000000000003" stroke="#333" stroke-width="0.6"/>
<line x1="280.46" y1="454.6" x2="280.46" y2="455.90000000000003" stroke="#333" stroke-width="0.6"/>
<line x1="282.42" y1="454.6" x2="282.42" y2="455.90000000000003" stroke="#333" stroke-width="0.6"/>
<line x1="284.38" y1="454.6" x2="284.38" y2="455.90000000000003" stroke="#333" stroke-width="0.6"/>
<line x1="286.35" y1="454.6" x2="286.35" y2="455.90000000000003" stroke="#333" stroke-width="0.6"/>
<line x1="288.31" y1="454.6" x2="288.31" y2="455.90000000000003" stroke="#333" stroke-width="0.6"/>
<line x1="290.28" y1="454.6" x2="290.28" y2="455.90000000000003" stroke="#333" stroke-width="0.6"/>
<line x1="292.24" y1="454.6" x2="292.24" y2="455.90000000000003" stroke="#333" stroke-width="0.6"/>
<line x1="294.21" y1="454.6" x2="294.21" y2="455.90000000000003" stroke="#333" stroke-width="0.6"/>
<line x1="296.17" y1="454.6" x2="296.17" y2="455.90000000000003" stroke="#333" stroke-width="0.6"/>
<line x1="298.13" y1="454.6" x2="298.13" y2="455.90000000000003" stroke="#333" stroke-width="0.6"/>
<line x1="300.1" y1="454.6" x2="300.1" y2="455.90000000000003" stroke="#333" stroke-width="0.6"/>
<line x1="302.06" y1="454.6" x2="302.06" y2="455.90000000000003" stroke="#333" stroke-width="0.6"/>
<line x1="304.03" y1="454.6" x2="304.03" y2="455.90000000000003" stroke="#333" stroke-width="0.6"/>
<line x1="305.99" y1="454.6" x2="305.99" y2="455.90000000000003" stroke="#333" stroke-width="0.6"/>
<line x1="307.95" y1="454.6" x2="307.95" y2="455.90000000000003" stroke="#333" stroke-width="0.6"/>
<line x1="309.92" y1="454.6" x2="309.92" y2="455.90000000000003" stroke="#333" stroke-width="0.6"/>
<line x1="311.88" y1="454.6" x2="311.88" y2="455.90000000000003" stroke="#333" stroke-width="0.6"/>
<line x1="313.85" y1="454.6" x2="313.85" y2="455.90000000000003" stroke="#333" stroke-width="0.6"/>
<line x1="315.81" y1="454.6" x2="315.81" y2="455.90000000000003" stroke="#333" stroke-width="0.6"/>
<line x1="317.77" y1="454.6" x2="317.77" y2="455.90000000000003" stroke="#333" stroke-width="0.6"/>
<line x1="319.74" y1="454.6" x2="319.74" y2="455.90000000000003" stroke="#333" stroke-width="0.6"/>
<line x1="321.7" y1="454.6" x2="321.7" y2="455.90000000000003" stroke="#333" stroke-width="0.6"/>
<line x1="323.67" y1="454.6" x2="323.67" y2="455.90000000000003" stroke="#333" stroke-width="0.6"/>
<line x1="325.63" y1="454.6" x2="325.63" y2="455.90000000000003" stroke="#333" stroke-width="0.6"/>
<line x1="327.59" y1="454.6" x2="327.59" y2="455.90000000000003" stroke="#333" stroke-width="0.6"/>
<line x1="329.56" y1="454.6" x2="329.56" y2="455.90000000000003" stroke="#333" stroke-width="0.6"/>
<line x1="331.52" y1="454.6" x2="331.52" y2="455.90000000000003" stroke="#333" stroke-width="0.6"/>
<line x1="333.49" y1="454.6" x2="333.49" y2="455.90000000000003" stroke="#333" stroke-width="0.6"/>
<line x1="335.45" y1="454.6" x2="335.45" y2="455.90000000000003" stroke="#333" stroke-width="0.6"/>
<line x1="337.42" y1="454.6" x2="337.42" y2="455.90000000000003" stroke="#333" stroke-width="0.6"/>
<line x1="339.38" y1="454.6" x2="339.38" y2="455.90000000000003" stroke="#333" stroke-width="0.6"/>
<line x1="341.34" y1="454.6" x2="341.34" y2="455.90000000000003" stroke="#333" stroke-width="0.6"/>
<line x1="343.31" y1="454.6" x2="343.31" y2="455.90000000000003" stroke="#333" stroke-width="0.6"/>
<line x1="345.27" y1="454.6" x2="345.27" y2="455.90000000000003" stroke="#333" stroke-width="0.6"/>
<line x1="347.24" y1="454.6" x2="347.24" y2="455.90000000000003" stroke="#333" stroke-width="0.6"/>
<line x1="349.2" y1="454.6" x2="349.2" y2="455.90000000000003" stroke="#333" stroke-width="0.6"/>
<text x="261.2" y="416.5" font-size="5.8" font-weight="normal" text-anchor="middle" fill="#777" transform="rotate(-90 261.2 416.5)">% of Max</text>
<text x="258.3" y="473.4" font-size="10.8" font-weight="normal" text-anchor="start" fill="#000" textLength="16.4" lengthAdjust="spacingAndGlyphs">IL-2</text>
<line x1="282" y1="469" x2="348.0" y2="469" stroke="#000" stroke-width="1.9"/>
<polygon points="353.3,469 347.5,466.2 347.5,471.8" fill="#000"/>
<line x1="135" y1="375" x2="135" y2="454.5" stroke="#000" stroke-width="1.5"/>
<line x1="134.3" y1="454.5" x2="253.75" y2="454.5" stroke="#000" stroke-width="1.8"/>
<line x1="133" y1="375.0" x2="135" y2="375.0" stroke="#000" stroke-width="0.9"/>
<text x="132.6" y="379.0" font-size="5.0" font-weight="normal" text-anchor="end" fill="#333" letter-spacing="0.3">35</text>
<line x1="133" y1="386.35714285714283" x2="135" y2="386.35714285714283" stroke="#000" stroke-width="0.9"/>
<text x="132.6" y="390.36" font-size="5.0" font-weight="normal" text-anchor="end" fill="#333" letter-spacing="0.3">30</text>
<line x1="133" y1="397.7142857142857" x2="135" y2="397.7142857142857" stroke="#000" stroke-width="0.9"/>
<text x="132.6" y="401.71" font-size="5.0" font-weight="normal" text-anchor="end" fill="#333" letter-spacing="0.3">25</text>
<line x1="133" y1="409.07142857142856" x2="135" y2="409.07142857142856" stroke="#000" stroke-width="0.9"/>
<text x="132.6" y="413.07" font-size="5.0" font-weight="normal" text-anchor="end" fill="#333" letter-spacing="0.3">20</text>
<line x1="133" y1="420.42857142857144" x2="135" y2="420.42857142857144" stroke="#000" stroke-width="0.9"/>
<text x="132.6" y="424.43" font-size="5.0" font-weight="normal" text-anchor="end" fill="#333" letter-spacing="0.3">15</text>
<line x1="133" y1="431.7857142857143" x2="135" y2="431.7857142857143" stroke="#000" stroke-width="0.9"/>
<text x="132.6" y="435.79" font-size="5.0" font-weight="normal" text-anchor="end" fill="#333" letter-spacing="0.3">10</text>
<line x1="133" y1="443.1428571428571" x2="135" y2="443.1428571428571" stroke="#000" stroke-width="0.9"/>
<text x="132.6" y="447.14" font-size="5.0" font-weight="normal" text-anchor="end" fill="#333" letter-spacing="0.3">5</text>
<line x1="133" y1="454.5" x2="135" y2="454.5" stroke="#000" stroke-width="0.9"/>
<text x="132.6" y="458.5" font-size="5.0" font-weight="normal" text-anchor="end" fill="#333" letter-spacing="0.3">0</text>
<line x1="164.5" y1="385.75" x2="164.5" y2="393.75" stroke="#000" stroke-width="1.6"/>
<line x1="154.5" y1="385.75" x2="174.5" y2="385.75" stroke="#000" stroke-width="1.6"/>
<rect x="144.5" y="393.75" width="40.0" height="60.75" fill="#000" stroke="none" stroke-width="0"/>
<line x1="164.5" y1="454.5" x2="164.5" y2="456.5" stroke="#000" stroke-width="1"/>
<line x1="224.3" y1="424.1" x2="224.3" y2="428.8" stroke="#000" stroke-width="1.6"/>
<line x1="214.3" y1="424.1" x2="234.3" y2="424.1" stroke="#000" stroke-width="1.6"/>
<rect x="204.9" y="429.6" width="38.800000000000004" height="24.899999999999988" fill="#fff" stroke="#000" stroke-width="1.6"/>
<line x1="224.3" y1="454.5" x2="224.3" y2="456.5" stroke="#000" stroke-width="1"/>
<text x="124.5" y="414" font-size="8.4" font-weight="bold" text-anchor="middle" fill="#000" transform="rotate(-90 124.5 414)">% secreting IFNγ</text>
<line x1="162.5" y1="380.5" x2="227.5" y2="380.5" stroke="#000" stroke-width="1.3"/>
<text x="192.54" y="383.26" font-size="16" font-weight="bold" text-anchor="middle" letter-spacing="-0.92">*</text>
<text x="161" y="467" font-size="9.6" font-weight="normal" text-anchor="middle" fill="#000">Tcon</text>
<text x="224.3" y="467" font-size="9.6" font-weight="normal" text-anchor="middle" fill="#000">Tcon+NK</text>
<line x1="375.5" y1="375" x2="375.5" y2="454.5" stroke="#000" stroke-width="1.5"/>
<line x1="374.8" y1="454.5" x2="493.75" y2="454.5" stroke="#000" stroke-width="1.8"/>
<line x1="373.5" y1="375.0" x2="375.5" y2="375.0" stroke="#000" stroke-width="0.9"/>
<text x="373.1" y="379.0" font-size="5.0" font-weight="normal" text-anchor="end" fill="#333" letter-spacing="0.3">30</text>
<line x1="373.5" y1="388.25" x2="375.5" y2="388.25" stroke="#000" stroke-width="0.9"/>
<text x="373.1" y="392.25" font-size="5.0" font-weight="normal" text-anchor="end" fill="#333" letter-spacing="0.3">25</text>
<line x1="373.5" y1="401.5" x2="375.5" y2="401.5" stroke="#000" stroke-width="0.9"/>
<text x="373.1" y="405.5" font-size="5.0" font-weight="normal" text-anchor="end" fill="#333" letter-spacing="0.3">20</text>
<line x1="373.5" y1="414.75" x2="375.5" y2="414.75" stroke="#000" stroke-width="0.9"/>
<text x="373.1" y="418.75" font-size="5.0" font-weight="normal" text-anchor="end" fill="#333" letter-spacing="0.3">15</text>
<line x1="373.5" y1="428.0" x2="375.5" y2="428.0" stroke="#000" stroke-width="0.9"/>
<text x="373.1" y="432.0" font-size="5.0" font-weight="normal" text-anchor="end" fill="#333" letter-spacing="0.3">10</text>
<line x1="373.5" y1="441.25" x2="375.5" y2="441.25" stroke="#000" stroke-width="0.9"/>
<text x="373.1" y="445.25" font-size="5.0" font-weight="normal" text-anchor="end" fill="#333" letter-spacing="0.3">5</text>
<line x1="373.5" y1="454.5" x2="375.5" y2="454.5" stroke="#000" stroke-width="0.9"/>
<text x="373.1" y="458.5" font-size="5.0" font-weight="normal" text-anchor="end" fill="#333" letter-spacing="0.3">0</text>
<line x1="405.25" y1="384.5" x2="405.25" y2="390" stroke="#000" stroke-width="1.6"/>
<line x1="395.5" y1="384.5" x2="415.0" y2="384.5" stroke="#000" stroke-width="1.6"/>
<rect x="385" y="390" width="40.5" height="64.5" fill="#000" stroke="none" stroke-width="0"/>
<line x1="405.25" y1="454.5" x2="405.25" y2="456.5" stroke="#000" stroke-width="1"/>
<line x1="465.0" y1="412.5" x2="465.0" y2="430" stroke="#000" stroke-width="1.6"/>
<line x1="455.25" y1="412.5" x2="474.75" y2="412.5" stroke="#000" stroke-width="1.6"/>
<rect x="446.3" y="430.8" width="37.4" height="23.7" fill="#fff" stroke="#000" stroke-width="1.6"/>
<line x1="465.0" y1="454.5" x2="465.0" y2="456.5" stroke="#000" stroke-width="1"/>
<text x="364.6" y="417" font-size="8.1" font-weight="bold" text-anchor="middle" fill="#000" transform="rotate(-90 364.6 417)">% expressing IL-2</text>
<text x="401.3" y="467" font-size="9.6" font-weight="normal" text-anchor="middle" fill="#000">Tcon</text>
<text x="465" y="467" font-size="9.6" font-weight="normal" text-anchor="middle" fill="#000">Tcon+NK</text>
<rect x="464.9" y="364.2" width="6" height="6.6" fill="#fff" stroke="#000" stroke-width="1"/>
<rect x="466.6" y="366.2" width="2.6" height="2.6" fill="none" stroke="#000" stroke-width="0.7" stroke-dasharray="0.8 0.8"/>
<text x="473.75" y="370.6" font-size="8" font-weight="normal" text-anchor="start" fill="#222">Unstimulated</text>
<text x="474.5" y="380.2" font-size="8" font-weight="normal" text-anchor="start" fill="#222">Ctrl</text>
<rect x="464.9" y="381.6" width="6" height="6.6" fill="#fff" stroke="#000" stroke-width="1"/>
<text x="473.75" y="388.6" font-size="8" font-weight="normal" text-anchor="start" fill="#222">Tcon</text>
<rect x="464.9" y="392.1" width="6" height="6.6" fill="#d0d0d0" stroke="#000" stroke-width="1"/>
<text x="473.75" y="399.1" font-size="8" font-weight="normal" text-anchor="start" fill="#222">Tcon+NK</text>
<text x="156" y="500.8" font-size="12" font-weight="normal" text-anchor="middle" fill="#000">pLN</text>
<text x="320" y="500.8" font-size="12" font-weight="normal" text-anchor="middle" fill="#000">Spleen</text>
<text x="50" y="556.2" font-size="10" font-weight="bold" text-anchor="middle" fill="#000" transform="rotate(-90 50 556.2)">Reisolated cell number</text>
<line x1="57" y1="504.1" x2="57" y2="611" stroke="#000" stroke-width="1.9"/>
<polygon points="57,499 54.1,504.6 59.9,504.6" fill="#000"/>
<line x1="100" y1="506.25" x2="100" y2="610" stroke="#000" stroke-width="1.6"/>
<line x1="99.2" y1="610" x2="222.5" y2="610" stroke="#000" stroke-width="1.8"/>
<line x1="97.8" y1="506.25" x2="100" y2="506.25" stroke="#000" stroke-width="1"/>
<text x="95.4" y="509.05" font-size="7.8" text-anchor="end" fill="#444" letter-spacing="0.5">1.0<tspan font-size="9.5" font-weight="bold">×</tspan>10<tspan dy="-3.2" font-size="5.6" font-weight="bold">5</tspan></text>
<line x1="97.8" y1="527.8" x2="100" y2="527.8" stroke="#000" stroke-width="1"/>
<text x="95.4" y="530.5999999999999" font-size="7.8" text-anchor="end" fill="#444" letter-spacing="0.5">8.0<tspan font-size="9.5" font-weight="bold">×</tspan>10<tspan dy="-3.2" font-size="5.6" font-weight="bold">4</tspan></text>
<line x1="97.8" y1="548.5" x2="100" y2="548.5" stroke="#000" stroke-width="1"/>
<text x="95.4" y="551.3" font-size="7.8" text-anchor="end" fill="#444" letter-spacing="0.5">6.0<tspan font-size="9.5" font-weight="bold">×</tspan>10<tspan dy="-3.2" font-size="5.6" font-weight="bold">4</tspan></text>
<line x1="97.8" y1="569.1" x2="100" y2="569.1" stroke="#000" stroke-width="1"/>
<text x="95.4" y="571.9" font-size="7.8" text-anchor="end" fill="#444" letter-spacing="0.5">4.0<tspan font-size="9.5" font-weight="bold">×</tspan>10<tspan dy="-3.2" font-size="5.6" font-weight="bold">4</tspan></text>
<line x1="97.8" y1="589.6" x2="100" y2="589.6" stroke="#000" stroke-width="1"/>
<text x="95.4" y="592.4" font-size="7.8" text-anchor="end" fill="#444" letter-spacing="0.5">2.0<tspan font-size="9.5" font-weight="bold">×</tspan>10<tspan dy="-3.2" font-size="5.6" font-weight="bold">4</tspan></text>
<line x1="97.8" y1="610" x2="100" y2="610" stroke="#000" stroke-width="1"/>
<text x="97.5" y="612.8" font-size="7.8" font-weight="normal" text-anchor="end" fill="#444">0</text>
<line x1="119.625" y1="527.8" x2="119.625" y2="540" stroke="#000" stroke-width="1.8"/>
<line x1="114.625" y1="527.8" x2="124.625" y2="527.8" stroke="#000" stroke-width="1.8"/>
<rect x="111.25" y="540" width="16.75" height="70" fill="#000" stroke="none" stroke-width="0"/>
<line x1="142.875" y1="584.5" x2="142.875" y2="588.75" stroke="#000" stroke-width="1.8"/>
<line x1="137.875" y1="584.5" x2="147.875" y2="584.5" stroke="#000" stroke-width="1.8"/>
<rect x="135.4" y="589.65" width="14.95" height="20.35" fill="#fff" stroke="#000" stroke-width="1.8"/>
<line x1="181.0" y1="563.75" x2="181.0" y2="571.25" stroke="#000" stroke-width="1.8"/>
<line x1="176.0" y1="563.75" x2="186.0" y2="563.75" stroke="#000" stroke-width="1.8"/>
<rect x="172.5" y="571.25" width="17.0" height="38.75" fill="#000" stroke="none" stroke-width="0"/>
<line x1="203.75" y1="577.5" x2="203.75" y2="582.5" stroke="#000" stroke-width="1.8"/>
<line x1="198.75" y1="577.5" x2="208.75" y2="577.5" stroke="#000" stroke-width="1.8"/>
<rect x="196.4" y="583.4" width="14.7" height="26.6" fill="#fff" stroke="#000" stroke-width="1.8"/>
<line x1="118.75" y1="525" x2="148.75" y2="525" stroke="#000" stroke-width="1.3"/>
<text x="133.42" y="527.11" font-size="11.2" font-weight="bold" text-anchor="middle" letter-spacing="1.34">*</text>
<text x="129.8" y="623.5" font-size="10" font-weight="normal" text-anchor="middle" fill="#000">CD4</text>
<text x="190" y="623.5" font-size="10" font-weight="normal" text-anchor="middle" fill="#000">CD8</text>
<line x1="258.75" y1="505.75" x2="258.75" y2="610" stroke="#000" stroke-width="1.6"/>
<line x1="257.95" y1="610" x2="398.75" y2="610" stroke="#000" stroke-width="1.8"/>
<line x1="256.55" y1="505.75" x2="258.75" y2="505.75" stroke="#000" stroke-width="1"/>
<text x="254.15" y="508.55" font-size="7.8" text-anchor="end" fill="#444" letter-spacing="0.5">1.5<tspan font-size="9.5" font-weight="bold">×</tspan>10<tspan dy="-3.2" font-size="5.6" font-weight="bold">7</tspan></text>
<line x1="256.55" y1="540.75" x2="258.75" y2="540.75" stroke="#000" stroke-width="1"/>
<text x="254.15" y="543.55" font-size="7.8" text-anchor="end" fill="#444" letter-spacing="0.5">1.0<tspan font-size="9.5" font-weight="bold">×</tspan>10<tspan dy="-3.2" font-size="5.6" font-weight="bold">7</tspan></text>
<line x1="256.55" y1="575.6" x2="258.75" y2="575.6" stroke="#000" stroke-width="1"/>
<text x="254.15" y="578.4" font-size="7.8" text-anchor="end" fill="#444" letter-spacing="0.5">5.0<tspan font-size="9.5" font-weight="bold">×</tspan>10<tspan dy="-3.2" font-size="5.6" font-weight="bold">6</tspan></text>
<line x1="256.55" y1="610" x2="258.75" y2="610" stroke="#000" stroke-width="1"/>
<text x="256.25" y="612.8" font-size="7.8" font-weight="normal" text-anchor="end" fill="#444">0</text>
<line x1="280.625" y1="538" x2="280.625" y2="548.25" stroke="#000" stroke-width="1.8"/>
<line x1="275.625" y1="538" x2="285.625" y2="538" stroke="#000" stroke-width="1.8"/>
<rect x="271.25" y="548.25" width="18.75" height="61.75" fill="#000" stroke="none" stroke-width="0"/>
<line x1="306.875" y1="604" x2="306.875" y2="605" stroke="#000" stroke-width="1.8"/>
<line x1="301.875" y1="604" x2="311.875" y2="604" stroke="#000" stroke-width="1.8"/>
<rect x="298.4" y="605.9" width="16.95" height="4.1" fill="#fff" stroke="#000" stroke-width="1.8"/>
<line x1="350.625" y1="600.5" x2="350.625" y2="601.75" stroke="#000" stroke-width="1.8"/>
<line x1="345.625" y1="600.5" x2="355.625" y2="600.5" stroke="#000" stroke-width="1.8"/>
<rect x="341.25" y="601.75" width="18.75" height="8.25" fill="#000" stroke="none" stroke-width="0"/>
<rect x="367.9" y="608.9" width="17.45" height="1.1" fill="#fff" stroke="#000" stroke-width="1.8"/>
<line x1="280" y1="534.5" x2="310" y2="534.5" stroke="#000" stroke-width="1.3"/>
<text x="294.67" y="536.61" font-size="11.2" font-weight="bold" text-anchor="middle" letter-spacing="1.34">**</text>
<line x1="351.25" y1="596.25" x2="381.25" y2="596.25" stroke="#000" stroke-width="1.3"/>
<text x="365.92" y="598.36" font-size="11.2" font-weight="bold" text-anchor="middle" letter-spacing="1.34">**</text>
<text x="288" y="623.5" font-size="10" font-weight="normal" text-anchor="middle" fill="#000">CD4</text>
<text x="359.8" y="623.5" font-size="10" font-weight="normal" text-anchor="middle" fill="#000">CD8</text>
<rect x="179" y="628.5" width="7.8" height="7.8" fill="#000" stroke="none" stroke-width="0"/>
<text x="191.4" y="637.8" font-size="7.6" font-weight="bold" text-anchor="start" fill="#000">Tcon</text>
<rect x="242.2" y="629.7" width="6.4" height="6.4" fill="#fff" stroke="#000" stroke-width="1.9"/>
<text x="252.6" y="637.8" font-size="7.6" font-weight="bold" text-anchor="start" fill="#000">Tcon+NK</text>
<text x="0.7" y="375.7" font-size="19" font-weight="bold" text-anchor="start" fill="#000">B</text>
<text x="-0.6" y="504.6" font-size="18.5" font-weight="bold" text-anchor="start" fill="#000">C</text>
</svg></body></html>
